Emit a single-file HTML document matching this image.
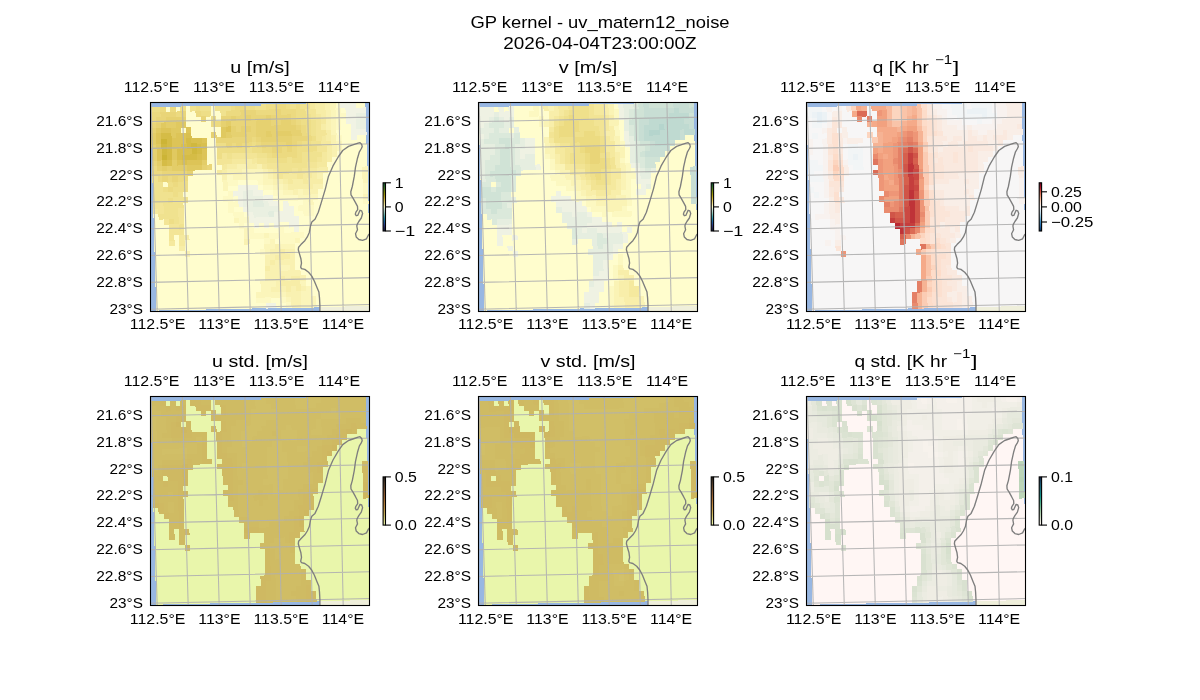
<!DOCTYPE html><html><head><meta charset="utf-8"><title>GP kernel</title>
<style>html,body{margin:0;padding:0;background:#fff}svg{display:block}text{font-family:"Liberation Sans",sans-serif;fill:#000}</style></head><body>
<svg width="1200" height="700" viewBox="0 0 1200 700">
<rect width="1200" height="700" fill="#fff"/>
<g transform="translate(150.7,102.6)">
<clipPath id="cu"><rect x="-0.20" y="-0.10" width="219.0" height="209.0"/></clipPath>
<g clip-path="url(#cu)">
<rect x="-2" y="-2" width="222.5" height="212.4" fill="#98b7e2"/>
<polygon points="169.2,208.6 169.2,203.0 168.8,195.3 168.2,189.5 166.3,185.0 163.7,178.6 161.1,173.5 157.9,169.6 154.1,166.8 150.8,166.0 150.0,164.5 150.8,160.6 150.2,156.1 148.7,151.0 147.6,147.1 147.9,144.6 150.2,142.0 154.1,138.1 156.6,134.3 158.6,129.8 159.8,123.4 161.1,119.5 164.3,116.7 167.6,109.6 170.8,99.3 174.6,86.5 177.8,73.6 182.3,63.3 187.5,54.4 192.0,47.9 197.8,43.8 203.6,41.8 207.4,40.5 209.3,40.0 211.0,41.8 211.5,44.1 210.4,46.4 208.7,49.2 206.8,55.6 204.8,64.6 203.6,73.6 201.6,83.9 200.1,89.1 200.3,92.3 202.3,95.5 204.8,100.0 206.8,103.8 207.0,107.0 205.2,109.6 204.6,111.5 205.5,113.1 207.0,112.8 208.1,110.3 209.3,107.7 211.0,108.3 211.9,110.9 210.6,115.4 208.1,118.9 206.5,121.8 206.1,123.4 206.8,127.2 204.8,131.1 205.5,134.3 208.1,136.9 211.9,137.8 215.8,136.2 217.7,132.4 219.5,130.5 222,130 222,212 169,212" fill="#efefdb"/>
<g transform="matrix(1 -0.0215 0.029 1 -0.4 4.1)" shape-rendering="crispEdges">
<rect x="0" y="0" width="215.00" height="203.87" fill="#fffdcd"/>
<path fill="#eede87" d="M0 0.00h10.35v5.71h-10.35zM30 0.00h5.35v5.71h-5.35zM45 0.00h5.35v5.71h-5.35zM80 0.00h5.35v5.71h-5.35zM95 0.00h10.35v5.71h-10.35zM115 0.00h10.35v5.71h-10.35zM135 0.00h5.35v5.71h-5.35zM145 0.00h5.35v5.71h-5.35zM50 5.37h10.35v5.71h-10.35zM145 5.37h10.35v5.71h-10.35zM60 10.73h5.35v5.71h-5.35zM145 10.73h10.35v5.71h-10.35zM150 16.09h10.35v5.71h-10.35zM155 21.46h5.35v5.71h-5.35zM155 26.83h5.35v5.71h-5.35zM160 32.19h5.35v5.71h-5.35zM65 37.55h10.35v5.71h-10.35zM100 37.55h5.35v5.71h-5.35zM150 37.55h10.35v5.71h-10.35zM65 42.92h30.35v5.71h-30.35zM100 42.92h10.35v5.71h-10.35zM145 42.92h20.35v5.71h-20.35zM65 48.29h5.35v5.71h-5.35zM115 48.29h5.35v5.71h-5.35zM145 48.29h5.35v5.71h-5.35zM125 53.65h10.35v5.71h-10.35zM140 53.65h10.35v5.71h-10.35zM15 75.11h5.35v5.71h-5.35zM25 75.11h10.35v5.71h-10.35zM10 80.48h5.35v5.71h-5.35zM20 80.48h15.35v5.71h-15.35zM20 85.84h5.35v5.71h-5.35zM15 91.20h5.35v5.71h-5.35zM15 112.67h5.35v5.71h-5.35z"/>
<path fill="#ecda80" d="M10 0.00h5.35v5.71h-5.35zM20 0.00h5.35v5.71h-5.35zM85 0.00h10.35v5.71h-10.35zM125 0.00h10.35v5.71h-10.35zM0 5.37h10.35v5.71h-10.35zM25 5.37h5.35v5.71h-5.35zM45 5.37h5.35v5.71h-5.35zM75 5.37h15.35v5.71h-15.35zM105 5.37h20.35v5.71h-20.35zM130 5.37h15.35v5.71h-15.35zM0 10.73h5.35v5.71h-5.35zM140 10.73h5.35v5.71h-5.35zM60 16.09h10.35v5.71h-10.35zM145 16.09h5.35v5.71h-5.35zM150 21.46h5.35v5.71h-5.35zM150 26.83h5.35v5.71h-5.35zM100 32.19h5.35v5.71h-5.35zM155 32.19h5.35v5.71h-5.35zM80 37.55h5.35v5.71h-5.35zM90 37.55h10.35v5.71h-10.35zM105 37.55h5.35v5.71h-5.35zM145 37.55h5.35v5.71h-5.35zM110 42.92h10.35v5.71h-10.35zM130 42.92h5.35v5.71h-5.35zM140 42.92h5.35v5.71h-5.35zM120 48.29h25.35v5.71h-25.35zM0 59.02h5.35v5.71h-5.35zM0 64.38h10.35v5.71h-10.35zM5 69.75h5.35v5.71h-5.35zM15 69.75h5.35v5.71h-5.35zM25 69.75h10.35v5.71h-10.35zM20 75.11h5.35v5.71h-5.35zM15 80.48h5.35v5.71h-5.35z"/>
<path fill="#f0e28f" d="M40 0.00h5.35v5.71h-5.35zM50 0.00h10.35v5.71h-10.35zM65 0.00h15.35v5.71h-15.35zM105 0.00h10.35v5.71h-10.35zM140 0.00h5.35v5.71h-5.35zM150 0.00h10.35v5.71h-10.35zM70 5.37h5.35v5.71h-5.35zM155 10.73h5.35v5.71h-5.35zM160 16.09h5.35v5.71h-5.35zM160 21.46h5.35v5.71h-5.35zM160 26.83h5.35v5.71h-5.35zM160 37.55h10.35v5.71h-10.35zM95 42.92h5.35v5.71h-5.35zM75 48.29h5.35v5.71h-5.35zM105 48.29h10.35v5.71h-10.35zM150 48.29h20.35v5.71h-20.35zM115 53.65h10.35v5.71h-10.35zM135 53.65h5.35v5.71h-5.35zM150 53.65h15.35v5.71h-15.35zM125 59.02h30.35v5.71h-30.35zM125 64.38h15.35v5.71h-15.35zM145 64.38h5.35v5.71h-5.35zM0 69.75h5.35v5.71h-5.35zM0 75.11h10.35v5.71h-10.35zM0 80.48h10.35v5.71h-10.35zM0 85.84h20.35v5.71h-20.35zM25 85.84h5.35v5.71h-5.35zM0 91.20h15.35v5.71h-15.35zM20 91.20h15.35v5.71h-15.35zM10 96.57h20.35v5.71h-20.35zM10 101.94h15.35v5.71h-15.35zM5 107.30h20.35v5.71h-20.35zM20 112.67h5.35v5.71h-5.35zM25 118.03h5.35v5.71h-5.35z"/>
<path fill="#f5e99e" d="M160 0.00h5.35v5.71h-5.35zM165 10.73h5.35v5.71h-5.35zM170 16.09h5.35v5.71h-5.35zM170 32.19h5.35v5.71h-5.35zM170 37.55h10.35v5.71h-10.35zM170 48.29h5.35v5.71h-5.35zM80 53.65h15.35v5.71h-15.35zM100 53.65h5.35v5.71h-5.35zM170 53.65h5.35v5.71h-5.35zM70 59.02h5.35v5.71h-5.35zM110 59.02h5.35v5.71h-5.35zM165 59.02h10.35v5.71h-10.35zM65 64.38h5.35v5.71h-5.35zM120 64.38h5.35v5.71h-5.35zM155 64.38h10.35v5.71h-10.35zM130 69.75h15.35v5.71h-15.35zM150 69.75h10.35v5.71h-10.35zM135 75.11h5.35v5.71h-5.35zM150 75.11h5.35v5.71h-5.35zM0 101.94h5.35v5.71h-5.35zM25 128.76h5.35v5.71h-5.35zM15 134.12h5.35v5.71h-5.35zM25 134.12h5.35v5.71h-5.35z"/>
<path fill="#f7eda7" d="M165 0.00h10.35v5.71h-10.35zM165 5.37h10.35v5.71h-10.35zM170 10.73h5.35v5.71h-5.35zM170 21.46h5.35v5.71h-5.35zM175 26.83h5.35v5.71h-5.35zM175 32.19h5.35v5.71h-5.35zM175 42.92h5.35v5.71h-5.35zM175 48.29h5.35v5.71h-5.35zM95 53.65h5.35v5.71h-5.35zM175 53.65h5.35v5.71h-5.35zM75 59.02h10.35v5.71h-10.35zM95 59.02h10.35v5.71h-10.35zM70 64.38h5.35v5.71h-5.35zM115 64.38h5.35v5.71h-5.35zM165 64.38h10.35v5.71h-10.35zM120 69.75h5.35v5.71h-5.35zM160 69.75h5.35v5.71h-5.35zM130 75.11h5.35v5.71h-5.35zM140 75.11h10.35v5.71h-10.35zM155 75.11h15.35v5.71h-15.35zM135 80.48h25.35v5.71h-25.35zM30 128.76h5.35v5.71h-5.35zM25 139.49h5.35v5.71h-5.35zM125 144.86h5.35v5.71h-5.35zM120 150.22h15.35v5.71h-15.35zM115 155.59h5.35v5.71h-5.35zM110 160.95h5.35v5.71h-5.35zM125 171.68h5.35v5.71h-5.35zM135 171.68h10.35v5.71h-10.35zM125 177.05h20.35v5.71h-20.35zM130 182.41h5.35v5.71h-5.35zM140 182.41h5.35v5.71h-5.35z"/>
<path fill="#f9f1b1" d="M175 0.00h5.35v5.71h-5.35zM175 5.37h5.35v5.71h-5.35zM175 10.73h5.35v5.71h-5.35zM175 16.09h5.35v5.71h-5.35zM175 21.46h5.35v5.71h-5.35zM180 32.19h5.35v5.71h-5.35zM180 37.55h5.35v5.71h-5.35zM180 42.92h5.35v5.71h-5.35zM180 48.29h5.35v5.71h-5.35zM85 59.02h10.35v5.71h-10.35zM105 59.02h5.35v5.71h-5.35zM75 64.38h15.35v5.71h-15.35zM110 64.38h5.35v5.71h-5.35zM70 69.75h5.35v5.71h-5.35zM115 69.75h5.35v5.71h-5.35zM165 69.75h5.35v5.71h-5.35zM120 75.11h10.35v5.71h-10.35zM130 80.48h5.35v5.71h-5.35zM160 80.48h10.35v5.71h-10.35zM140 85.84h5.35v5.71h-5.35zM150 85.84h15.35v5.71h-15.35zM90 134.12h5.35v5.71h-5.35zM120 139.49h5.35v5.71h-5.35zM30 144.86h5.35v5.71h-5.35zM115 144.86h10.35v5.71h-10.35zM130 144.86h10.35v5.71h-10.35zM110 150.22h10.35v5.71h-10.35zM135 150.22h5.35v5.71h-5.35zM110 155.59h5.35v5.71h-5.35zM120 155.59h20.35v5.71h-20.35zM115 160.95h10.35v5.71h-10.35zM135 160.95h5.35v5.71h-5.35zM110 166.31h35.35v5.71h-35.35zM110 171.68h15.35v5.71h-15.35zM130 171.68h5.35v5.71h-5.35zM145 171.68h5.35v5.71h-5.35zM120 177.05h5.35v5.71h-5.35zM115 182.41h15.35v5.71h-15.35zM135 182.41h5.35v5.71h-5.35zM145 182.41h5.35v5.71h-5.35zM130 187.78h15.35v5.71h-15.35zM135 193.14h10.35v5.71h-10.35zM135 198.50h10.35v5.71h-10.35z"/>
<path fill="#fbf5ba" d="M180 0.00h5.35v5.71h-5.35zM180 5.37h5.35v5.71h-5.35zM180 10.73h5.35v5.71h-5.35zM180 16.09h5.35v5.71h-5.35zM180 21.46h5.35v5.71h-5.35zM180 26.83h5.35v5.71h-5.35zM185 37.55h5.35v5.71h-5.35zM185 42.92h5.35v5.71h-5.35zM90 64.38h20.35v5.71h-20.35zM210 64.38h5.35v5.71h-5.35zM80 69.75h15.35v5.71h-15.35zM110 69.75h5.35v5.71h-5.35zM210 69.75h5.35v5.71h-5.35zM70 75.11h5.35v5.71h-5.35zM110 75.11h10.35v5.71h-10.35zM210 75.11h5.35v5.71h-5.35zM70 80.48h5.35v5.71h-5.35zM120 80.48h10.35v5.71h-10.35zM130 85.84h10.35v5.71h-10.35zM145 85.84h5.35v5.71h-5.35zM145 91.20h20.35v5.71h-20.35zM210 91.20h5.35v5.71h-5.35zM155 96.57h5.35v5.71h-5.35zM80 112.67h5.35v5.71h-5.35zM90 123.40h5.35v5.71h-5.35zM90 128.76h5.35v5.71h-5.35zM110 128.76h5.35v5.71h-5.35zM115 134.12h5.35v5.71h-5.35zM140 134.12h5.35v5.71h-5.35zM110 139.49h10.35v5.71h-10.35zM125 139.49h15.35v5.71h-15.35zM110 144.86h5.35v5.71h-5.35zM125 160.95h10.35v5.71h-10.35zM105 177.05h15.35v5.71h-15.35zM145 177.05h5.35v5.71h-5.35zM105 182.41h10.35v5.71h-10.35zM150 182.41h5.35v5.71h-5.35zM100 187.78h30.35v5.71h-30.35zM145 187.78h10.35v5.71h-10.35zM130 193.14h5.35v5.71h-5.35zM145 193.14h15.35v5.71h-15.35zM145 198.50h15.35v5.71h-15.35z"/>
<path fill="#f1f3e4" d="M190 0.00h15.35v5.71h-15.35zM195 5.37h20.35v5.71h-20.35zM195 10.73h10.35v5.71h-10.35zM195 16.09h10.35v5.71h-10.35zM200 21.46h5.35v5.71h-5.35zM200 26.83h15.35v5.71h-15.35zM200 32.19h5.35v5.71h-5.35zM85 80.48h20.35v5.71h-20.35zM80 85.84h10.35v5.71h-10.35zM100 85.84h10.35v5.71h-10.35zM85 91.20h5.35v5.71h-5.35zM110 91.20h10.35v5.71h-10.35zM85 96.57h5.35v5.71h-5.35zM115 96.57h10.35v5.71h-10.35zM130 96.57h5.35v5.71h-5.35zM90 101.94h5.35v5.71h-5.35zM130 101.94h10.35v5.71h-10.35zM95 107.30h5.35v5.71h-5.35zM120 107.30h20.35v5.71h-20.35zM95 112.67h50.35v5.71h-50.35zM100 118.03h5.35v5.71h-5.35zM110 118.03h5.35v5.71h-5.35zM120 118.03h5.35v5.71h-5.35zM135 118.03h10.35v5.71h-10.35zM140 123.40h5.35v5.71h-5.35zM110 198.50h10.35v5.71h-10.35z"/>
<path fill="#e9d578" d="M10 5.37h15.35v5.71h-15.35zM30 5.37h5.35v5.71h-5.35zM90 5.37h15.35v5.71h-15.35zM125 5.37h5.35v5.71h-5.35zM5 10.73h10.35v5.71h-10.35zM50 10.73h5.35v5.71h-5.35zM70 10.73h10.35v5.71h-10.35zM85 10.73h10.35v5.71h-10.35zM100 10.73h15.35v5.71h-15.35zM120 10.73h20.35v5.71h-20.35zM0 16.09h5.35v5.71h-5.35zM80 16.09h25.35v5.71h-25.35zM120 16.09h10.35v5.71h-10.35zM140 16.09h5.35v5.71h-5.35zM85 21.46h5.35v5.71h-5.35zM100 21.46h5.35v5.71h-5.35zM145 21.46h5.35v5.71h-5.35zM95 26.83h10.35v5.71h-10.35zM65 32.19h35.35v5.71h-35.35zM105 32.19h5.35v5.71h-5.35zM140 32.19h15.35v5.71h-15.35zM75 37.55h5.35v5.71h-5.35zM85 37.55h5.35v5.71h-5.35zM110 37.55h25.35v5.71h-25.35zM140 37.55h5.35v5.71h-5.35zM120 42.92h10.35v5.71h-10.35zM135 42.92h5.35v5.71h-5.35zM0 53.65h5.35v5.71h-5.35zM55 59.02h5.35v5.71h-5.35zM10 64.38h25.35v5.71h-25.35zM10 69.75h5.35v5.71h-5.35zM20 69.75h5.35v5.71h-5.35z"/>
<path fill="#f3e596" d="M155 5.37h10.35v5.71h-10.35zM160 10.73h5.35v5.71h-5.35zM165 16.09h5.35v5.71h-5.35zM165 21.46h5.35v5.71h-5.35zM165 26.83h10.35v5.71h-10.35zM165 32.19h5.35v5.71h-5.35zM165 42.92h10.35v5.71h-10.35zM70 48.29h5.35v5.71h-5.35zM80 48.29h25.35v5.71h-25.35zM65 53.65h15.35v5.71h-15.35zM105 53.65h10.35v5.71h-10.35zM165 53.65h5.35v5.71h-5.35zM115 59.02h10.35v5.71h-10.35zM155 59.02h10.35v5.71h-10.35zM140 64.38h5.35v5.71h-5.35zM150 64.38h5.35v5.71h-5.35zM125 69.75h5.35v5.71h-5.35zM145 69.75h5.35v5.71h-5.35zM0 96.57h10.35v5.71h-10.35zM5 101.94h5.35v5.71h-5.35zM25 101.94h5.35v5.71h-5.35zM25 107.30h5.35v5.71h-5.35zM10 112.67h5.35v5.71h-5.35zM25 112.67h5.35v5.71h-5.35zM15 118.03h10.35v5.71h-10.35zM15 123.40h15.35v5.71h-15.35zM15 128.76h5.35v5.71h-5.35z"/>
<path fill="#fdf9c4" d="M185 5.37h5.35v5.71h-5.35zM185 10.73h10.35v5.71h-10.35zM185 16.09h5.35v5.71h-5.35zM185 21.46h5.35v5.71h-5.35zM185 32.19h5.35v5.71h-5.35zM75 69.75h5.35v5.71h-5.35zM95 69.75h15.35v5.71h-15.35zM75 75.11h10.35v5.71h-10.35zM105 75.11h5.35v5.71h-5.35zM110 80.48h10.35v5.71h-10.35zM210 80.48h5.35v5.71h-5.35zM75 85.84h5.35v5.71h-5.35zM120 85.84h10.35v5.71h-10.35zM210 85.84h5.35v5.71h-5.35zM70 91.20h10.35v5.71h-10.35zM125 91.20h20.35v5.71h-20.35zM75 96.57h10.35v5.71h-10.35zM150 96.57h5.35v5.71h-5.35zM210 96.57h5.35v5.71h-5.35zM75 101.94h5.35v5.71h-5.35zM145 101.94h15.35v5.71h-15.35zM80 107.30h10.35v5.71h-10.35zM150 107.30h10.35v5.71h-10.35zM85 112.67h10.35v5.71h-10.35zM85 118.03h5.35v5.71h-5.35zM95 123.40h5.35v5.71h-5.35zM125 123.40h5.35v5.71h-5.35zM95 128.76h15.35v5.71h-15.35zM115 128.76h35.35v5.71h-35.35zM110 134.12h5.35v5.71h-5.35zM125 134.12h15.35v5.71h-15.35zM105 144.86h5.35v5.71h-5.35zM100 193.14h15.35v5.71h-15.35zM125 193.14h5.35v5.71h-5.35zM130 198.50h5.35v5.71h-5.35z"/>
<path fill="#e6d170" d="M15 10.73h20.35v5.71h-20.35zM80 10.73h5.35v5.71h-5.35zM95 10.73h5.35v5.71h-5.35zM115 10.73h5.35v5.71h-5.35zM5 16.09h5.35v5.71h-5.35zM70 16.09h5.35v5.71h-5.35zM105 16.09h15.35v5.71h-15.35zM130 16.09h10.35v5.71h-10.35zM0 21.46h5.35v5.71h-5.35zM80 21.46h5.35v5.71h-5.35zM90 21.46h10.35v5.71h-10.35zM105 21.46h40.35v5.71h-40.35zM60 26.83h5.35v5.71h-5.35zM80 26.83h15.35v5.71h-15.35zM105 26.83h10.35v5.71h-10.35zM120 26.83h5.35v5.71h-5.35zM140 26.83h10.35v5.71h-10.35zM110 32.19h30.35v5.71h-30.35zM0 37.55h5.35v5.71h-5.35zM135 37.55h5.35v5.71h-5.35zM0 42.92h5.35v5.71h-5.35zM0 48.29h5.35v5.71h-5.35zM5 59.02h5.35v5.71h-5.35zM15 59.02h5.35v5.71h-5.35zM50 59.02h5.35v5.71h-5.35zM35 64.38h5.35v5.71h-5.35z"/>
<path fill="#eaf0e1" d="M205 10.73h10.35v5.71h-10.35zM205 16.09h10.35v5.71h-10.35zM205 21.46h10.35v5.71h-10.35zM90 85.84h10.35v5.71h-10.35zM90 91.20h20.35v5.71h-20.35zM90 96.57h10.35v5.71h-10.35zM110 96.57h5.35v5.71h-5.35zM95 101.94h30.35v5.71h-30.35zM100 107.30h15.35v5.71h-15.35z"/>
<path fill="#e0c960" d="M10 16.09h5.35v5.71h-5.35zM25 16.09h10.35v5.71h-10.35zM5 21.46h5.35v5.71h-5.35zM20 21.46h10.35v5.71h-10.35zM70 21.46h5.35v5.71h-5.35zM20 26.83h5.35v5.71h-5.35zM70 26.83h5.35v5.71h-5.35zM5 37.55h5.35v5.71h-5.35zM20 42.92h5.35v5.71h-5.35zM20 48.29h5.35v5.71h-5.35zM35 59.02h15.35v5.71h-15.35z"/>
<path fill="#e3cd68" d="M15 16.09h10.35v5.71h-10.35zM75 16.09h5.35v5.71h-5.35zM0 26.83h5.35v5.71h-5.35zM75 26.83h5.35v5.71h-5.35zM115 26.83h5.35v5.71h-5.35zM125 26.83h15.35v5.71h-15.35zM0 32.19h5.35v5.71h-5.35zM5 53.65h5.35v5.71h-5.35zM20 53.65h5.35v5.71h-5.35zM50 53.65h5.35v5.71h-5.35zM10 59.02h5.35v5.71h-5.35zM20 59.02h15.35v5.71h-15.35z"/>
<path fill="#ddc457" d="M10 21.46h10.35v5.71h-10.35zM35 21.46h5.35v5.71h-5.35zM75 21.46h5.35v5.71h-5.35zM5 26.83h5.35v5.71h-5.35zM25 26.83h10.35v5.71h-10.35zM5 32.19h5.35v5.71h-5.35zM20 32.19h15.35v5.71h-15.35zM50 32.19h5.35v5.71h-5.35zM20 37.55h10.35v5.71h-10.35zM5 42.92h5.35v5.71h-5.35zM50 42.92h5.35v5.71h-5.35zM5 48.29h5.35v5.71h-5.35zM50 48.29h5.35v5.71h-5.35zM25 53.65h5.35v5.71h-5.35zM35 53.65h15.35v5.71h-15.35z"/>
<path fill="#d5bc46" d="M10 26.83h10.35v5.71h-10.35zM15 32.19h5.35v5.71h-5.35zM35 32.19h5.35v5.71h-5.35zM15 37.55h5.35v5.71h-5.35zM35 37.55h5.35v5.71h-5.35zM45 37.55h5.35v5.71h-5.35zM15 42.92h5.35v5.71h-5.35zM45 42.92h5.35v5.71h-5.35zM15 48.29h5.35v5.71h-5.35zM30 48.29h15.35v5.71h-15.35zM10 53.65h5.35v5.71h-5.35z"/>
<path fill="#d9c04e" d="M35 26.83h5.35v5.71h-5.35zM40 32.19h10.35v5.71h-10.35zM30 37.55h5.35v5.71h-5.35zM50 37.55h5.35v5.71h-5.35zM25 42.92h15.35v5.71h-15.35zM25 48.29h5.35v5.71h-5.35zM45 48.29h5.35v5.71h-5.35zM15 53.65h5.35v5.71h-5.35zM30 53.65h5.35v5.71h-5.35z"/>
<path fill="#ccb436" d="M10 32.19h5.35v5.71h-5.35zM10 48.29h5.35v5.71h-5.35z"/>
<path fill="#d0b83e" d="M10 37.55h5.35v5.71h-5.35zM40 37.55h5.35v5.71h-5.35zM10 42.92h5.35v5.71h-5.35zM40 42.92h5.35v5.71h-5.35z"/>
<path fill="#e2ecde" d="M100 96.57h10.35v5.71h-10.35zM115 107.30h5.35v5.71h-5.35z"/>
</g>
<path d="M-1 -1h31v5.4h-31zM30 -1h80v4.4h-80zM110 -1h45v2.6h-45z" fill="#98b7e2" shape-rendering="crispEdges"/>
<path d="M0.3 -1L6.5 209.4M31.6 -1L37.5 209.4M62.9 -1L68.5 209.4M94.2 -1L99.5 209.4M125.5 -1L130.5 209.4M156.8 -1L161.5 209.4M188.1 -1L192.5 209.4M219.4 -1L223.5 209.4M-1 19.0L219.5 14.5M-1 45.8L219.5 41.2M-1 72.6L219.5 68.0M-1 99.4L219.5 94.8M-1 126.2L219.5 121.5M-1 153.0L219.5 148.2M-1 179.8L219.5 175.0M-1 206.6L219.5 201.8" stroke="#b0b0b0" stroke-width="1.05" fill="none" opacity="0.93"/>
<path d="M169.2 208.6L169.2 203.0L168.8 195.3L168.2 189.5L166.3 185.0L163.7 178.6L161.1 173.5L157.9 169.6L154.1 166.8L150.8 166.0L150.0 164.5L150.8 160.6L150.2 156.1L148.7 151.0L147.6 147.1L147.9 144.6L150.2 142.0L154.1 138.1L156.6 134.3L158.6 129.8L159.8 123.4L161.1 119.5L164.3 116.7L167.6 109.6L170.8 99.3L174.6 86.5L177.8 73.6L182.3 63.3L187.5 54.4L192.0 47.9L197.8 43.8L203.6 41.8L207.4 40.5L209.3 40.0L211.0 41.8L211.5 44.1L210.4 46.4L208.7 49.2L206.8 55.6L204.8 64.6L203.6 73.6L201.6 83.9L200.1 89.1L200.3 92.3L202.3 95.5L204.8 100.0L206.8 103.8L207.0 107.0L205.2 109.6L204.6 111.5L205.5 113.1L207.0 112.8L208.1 110.3L209.3 107.7L211.0 108.3L211.9 110.9L210.6 115.4L208.1 118.9L206.5 121.8L206.1 123.4L206.8 127.2L204.8 131.1L205.5 134.3L208.1 136.9L211.9 137.8L215.8 136.2L217.7 132.4L219.5 130.5" stroke="#7e7e7e" stroke-width="1.35" fill="none" stroke-linejoin="round"/>
</g>
<rect x="-0.20" y="-0.10" width="219.0" height="209.0" fill="none" stroke="#000" stroke-width="1.1"/>
</g>
<linearGradient id="gu" x1="0" y1="0" x2="0" y2="1"><stop offset="0.00" stop-color="#174027"/><stop offset="0.05" stop-color="#1c6430"/><stop offset="0.10" stop-color="#3e7628"/><stop offset="0.15" stop-color="#648419"/><stop offset="0.20" stop-color="#88900c"/><stop offset="0.25" stop-color="#a89b0e"/><stop offset="0.30" stop-color="#c4ac28"/><stop offset="0.35" stop-color="#d9c04e"/><stop offset="0.40" stop-color="#e9d578"/><stop offset="0.45" stop-color="#f5e99e"/><stop offset="0.50" stop-color="#fffdcd"/><stop offset="0.55" stop-color="#d0e3d6"/><stop offset="0.60" stop-color="#aad0c8"/><stop offset="0.65" stop-color="#7abeb2"/><stop offset="0.70" stop-color="#49a3ab"/><stop offset="0.75" stop-color="#2787a5"/><stop offset="0.80" stop-color="#1e69a0"/><stop offset="0.85" stop-color="#284b96"/><stop offset="0.90" stop-color="#2c3278"/><stop offset="0.95" stop-color="#202550"/><stop offset="1.00" stop-color="#112040"/></linearGradient>
<rect x="383.1" y="182.8" width="2.4" height="48.2" fill="url(#gu)" stroke="#000" stroke-width="1.1"/>
<path d="M385.5 182.8h5.4" stroke="#000" stroke-width="1.1"/>
<path d="M385.5 206.9h5.4" stroke="#000" stroke-width="1.1"/>
<path d="M385.5 231.0h5.4" stroke="#000" stroke-width="1.1"/>
<g transform="translate(478.8,102.6)">
<clipPath id="cv"><rect x="-0.30" y="-0.10" width="219.0" height="209.0"/></clipPath>
<g clip-path="url(#cv)">
<rect x="-2" y="-2" width="222.5" height="212.4" fill="#98b7e2"/>
<polygon points="169.2,208.6 169.2,203.0 168.8,195.3 168.2,189.5 166.3,185.0 163.7,178.6 161.1,173.5 157.9,169.6 154.1,166.8 150.8,166.0 150.0,164.5 150.8,160.6 150.2,156.1 148.7,151.0 147.6,147.1 147.9,144.6 150.2,142.0 154.1,138.1 156.6,134.3 158.6,129.8 159.8,123.4 161.1,119.5 164.3,116.7 167.6,109.6 170.8,99.3 174.6,86.5 177.8,73.6 182.3,63.3 187.5,54.4 192.0,47.9 197.8,43.8 203.6,41.8 207.4,40.5 209.3,40.0 211.0,41.8 211.5,44.1 210.4,46.4 208.7,49.2 206.8,55.6 204.8,64.6 203.6,73.6 201.6,83.9 200.1,89.1 200.3,92.3 202.3,95.5 204.8,100.0 206.8,103.8 207.0,107.0 205.2,109.6 204.6,111.5 205.5,113.1 207.0,112.8 208.1,110.3 209.3,107.7 211.0,108.3 211.9,110.9 210.6,115.4 208.1,118.9 206.5,121.8 206.1,123.4 206.8,127.2 204.8,131.1 205.5,134.3 208.1,136.9 211.9,137.8 215.8,136.2 217.7,132.4 219.5,130.5 222,130 222,212 169,212" fill="#efefdb"/>
<g transform="matrix(1 -0.0215 0.029 1 -0.4 4.1)" shape-rendering="crispEdges">
<rect x="0" y="0" width="215.00" height="203.87" fill="#fffdcd"/>
<path fill="#eff2e3" d="M0 0.00h15.35v5.71h-15.35zM20 0.00h5.35v5.71h-5.35zM30 0.00h5.35v5.71h-5.35zM140 0.00h5.35v5.71h-5.35zM0 5.37h15.35v5.71h-15.35zM20 5.37h15.35v5.71h-15.35zM140 5.37h5.35v5.71h-5.35zM0 10.73h10.35v5.71h-10.35zM25 10.73h5.35v5.71h-5.35zM140 10.73h5.35v5.71h-5.35zM0 16.09h5.35v5.71h-5.35zM0 26.83h5.35v5.71h-5.35zM145 26.83h5.35v5.71h-5.35zM45 32.19h10.35v5.71h-10.35zM145 32.19h5.35v5.71h-5.35zM45 37.55h10.35v5.71h-10.35zM145 37.55h5.35v5.71h-5.35zM40 42.92h15.35v5.71h-15.35zM40 48.29h5.35v5.71h-5.35zM55 59.02h5.35v5.71h-5.35zM150 59.02h5.35v5.71h-5.35zM155 64.38h5.35v5.71h-5.35zM155 69.75h5.35v5.71h-5.35zM155 75.11h15.35v5.71h-15.35zM160 80.48h5.35v5.71h-5.35zM75 85.84h5.35v5.71h-5.35zM155 85.84h10.35v5.71h-10.35zM70 91.20h20.35v5.71h-20.35zM75 96.57h25.35v5.71h-25.35zM80 101.94h25.35v5.71h-25.35zM90 107.30h5.35v5.71h-5.35zM105 107.30h5.35v5.71h-5.35zM110 112.67h10.35v5.71h-10.35zM15 118.03h15.35v5.71h-15.35zM105 118.03h25.35v5.71h-25.35zM135 118.03h5.35v5.71h-5.35zM15 123.40h15.35v5.71h-15.35zM100 123.40h5.35v5.71h-5.35zM115 123.40h25.35v5.71h-25.35zM145 123.40h5.35v5.71h-5.35zM15 128.76h5.35v5.71h-5.35zM30 128.76h5.35v5.71h-5.35zM140 128.76h5.35v5.71h-5.35zM15 134.12h5.35v5.71h-5.35zM140 134.12h5.35v5.71h-5.35zM25 139.49h5.35v5.71h-5.35zM130 139.49h10.35v5.71h-10.35zM30 144.86h5.35v5.71h-5.35zM130 144.86h5.35v5.71h-5.35zM125 150.22h5.35v5.71h-5.35zM120 155.59h5.35v5.71h-5.35zM120 160.95h5.35v5.71h-5.35zM115 166.31h10.35v5.71h-10.35zM110 171.68h15.35v5.71h-15.35zM110 177.05h10.35v5.71h-10.35zM105 182.41h15.35v5.71h-15.35zM100 187.78h15.35v5.71h-15.35zM100 193.14h15.35v5.71h-15.35zM105 198.50h5.35v5.71h-5.35z"/>
<path fill="#fcf8c1" d="M55 0.00h5.35v5.71h-5.35zM50 5.37h10.35v5.71h-10.35zM135 5.37h5.35v5.71h-5.35zM60 10.73h5.35v5.71h-5.35zM135 10.73h5.35v5.71h-5.35zM60 16.09h5.35v5.71h-5.35zM135 21.46h5.35v5.71h-5.35zM135 26.83h5.35v5.71h-5.35zM140 37.55h5.35v5.71h-5.35zM65 48.29h5.35v5.71h-5.35zM70 53.65h5.35v5.71h-5.35zM140 53.65h5.35v5.71h-5.35zM70 59.02h5.35v5.71h-5.35zM145 59.02h5.35v5.71h-5.35zM75 64.38h5.35v5.71h-5.35zM145 64.38h5.35v5.71h-5.35zM70 69.75h15.35v5.71h-15.35zM145 69.75h10.35v5.71h-10.35zM75 75.11h15.35v5.71h-15.35zM145 75.11h5.35v5.71h-5.35zM85 80.48h10.35v5.71h-10.35zM145 80.48h5.35v5.71h-5.35zM95 85.84h5.35v5.71h-5.35zM140 85.84h10.35v5.71h-10.35zM95 91.20h10.35v5.71h-10.35zM145 91.20h5.35v5.71h-5.35zM105 96.57h10.35v5.71h-10.35zM145 96.57h5.35v5.71h-5.35zM110 101.94h15.35v5.71h-15.35zM140 101.94h5.35v5.71h-5.35zM120 107.30h5.35v5.71h-5.35zM130 107.30h20.35v5.71h-20.35zM135 150.22h5.35v5.71h-5.35zM135 155.59h5.35v5.71h-5.35zM130 160.95h5.35v5.71h-5.35zM130 166.31h5.35v5.71h-5.35zM130 171.68h5.35v5.71h-5.35zM125 182.41h5.35v5.71h-5.35zM125 187.78h5.35v5.71h-5.35zM125 193.14h5.35v5.71h-5.35zM125 198.50h5.35v5.71h-5.35z"/>
<path fill="#f8eeaa" d="M65 0.00h5.35v5.71h-5.35zM75 0.00h5.35v5.71h-5.35zM125 0.00h5.35v5.71h-5.35zM70 5.37h10.35v5.71h-10.35zM125 5.37h5.35v5.71h-5.35zM70 10.73h5.35v5.71h-5.35zM130 10.73h5.35v5.71h-5.35zM70 16.09h5.35v5.71h-5.35zM130 21.46h5.35v5.71h-5.35zM125 26.83h10.35v5.71h-10.35zM130 32.19h5.35v5.71h-5.35zM70 37.55h5.35v5.71h-5.35zM75 48.29h5.35v5.71h-5.35zM135 48.29h5.35v5.71h-5.35zM75 53.65h5.35v5.71h-5.35zM135 53.65h5.35v5.71h-5.35zM135 59.02h5.35v5.71h-5.35zM95 69.75h5.35v5.71h-5.35zM100 75.11h5.35v5.71h-5.35zM135 75.11h5.35v5.71h-5.35zM100 80.48h10.35v5.71h-10.35zM135 80.48h5.35v5.71h-5.35zM105 85.84h10.35v5.71h-10.35zM130 85.84h10.35v5.71h-10.35zM115 91.20h20.35v5.71h-20.35zM135 166.31h10.35v5.71h-10.35zM140 171.68h10.35v5.71h-10.35zM135 177.05h10.35v5.71h-10.35zM135 182.41h10.35v5.71h-10.35zM135 187.78h10.35v5.71h-10.35zM140 193.14h15.35v5.71h-15.35zM140 198.50h15.35v5.71h-15.35z"/>
<path fill="#faf3b5" d="M70 0.00h5.35v5.71h-5.35zM130 0.00h5.35v5.71h-5.35zM130 5.37h5.35v5.71h-5.35zM65 16.09h5.35v5.71h-5.35zM130 16.09h10.35v5.71h-10.35zM65 32.19h5.35v5.71h-5.35zM135 32.19h5.35v5.71h-5.35zM65 37.55h5.35v5.71h-5.35zM135 37.55h5.35v5.71h-5.35zM65 42.92h10.35v5.71h-10.35zM135 42.92h10.35v5.71h-10.35zM70 48.29h5.35v5.71h-5.35zM140 48.29h5.35v5.71h-5.35zM75 59.02h10.35v5.71h-10.35zM140 59.02h5.35v5.71h-5.35zM80 64.38h10.35v5.71h-10.35zM140 64.38h5.35v5.71h-5.35zM85 69.75h10.35v5.71h-10.35zM140 69.75h5.35v5.71h-5.35zM90 75.11h10.35v5.71h-10.35zM140 75.11h5.35v5.71h-5.35zM95 80.48h5.35v5.71h-5.35zM140 80.48h5.35v5.71h-5.35zM100 85.84h5.35v5.71h-5.35zM105 91.20h10.35v5.71h-10.35zM135 91.20h10.35v5.71h-10.35zM115 96.57h30.35v5.71h-30.35zM125 101.94h15.35v5.71h-15.35zM135 160.95h5.35v5.71h-5.35zM135 171.68h5.35v5.71h-5.35zM130 177.05h5.35v5.71h-5.35zM130 182.41h5.35v5.71h-5.35zM130 187.78h5.35v5.71h-5.35zM130 193.14h10.35v5.71h-10.35zM155 193.14h5.35v5.71h-5.35zM130 198.50h10.35v5.71h-10.35zM155 198.50h5.35v5.71h-5.35z"/>
<path fill="#f5e99e" d="M80 0.00h10.35v5.71h-10.35zM115 0.00h10.35v5.71h-10.35zM80 5.37h5.35v5.71h-5.35zM115 5.37h10.35v5.71h-10.35zM75 10.73h5.35v5.71h-5.35zM125 10.73h5.35v5.71h-5.35zM125 16.09h5.35v5.71h-5.35zM70 21.46h5.35v5.71h-5.35zM125 21.46h5.35v5.71h-5.35zM70 32.19h5.35v5.71h-5.35zM125 32.19h5.35v5.71h-5.35zM75 37.55h5.35v5.71h-5.35zM125 37.55h10.35v5.71h-10.35zM75 42.92h10.35v5.71h-10.35zM125 42.92h10.35v5.71h-10.35zM80 48.29h5.35v5.71h-5.35zM130 48.29h5.35v5.71h-5.35zM80 53.65h5.35v5.71h-5.35zM85 59.02h10.35v5.71h-10.35zM90 64.38h15.35v5.71h-15.35zM130 64.38h10.35v5.71h-10.35zM100 69.75h5.35v5.71h-5.35zM130 69.75h10.35v5.71h-10.35zM105 75.11h5.35v5.71h-5.35zM130 75.11h5.35v5.71h-5.35zM125 80.48h10.35v5.71h-10.35zM115 85.84h15.35v5.71h-15.35zM145 177.05h5.35v5.71h-5.35zM145 182.41h10.35v5.71h-10.35zM145 187.78h10.35v5.71h-10.35z"/>
<path fill="#f2e494" d="M90 0.00h5.35v5.71h-5.35zM110 0.00h5.35v5.71h-5.35zM85 5.37h5.35v5.71h-5.35zM110 5.37h5.35v5.71h-5.35zM80 10.73h5.35v5.71h-5.35zM110 10.73h15.35v5.71h-15.35zM75 16.09h5.35v5.71h-5.35zM115 16.09h10.35v5.71h-10.35zM120 21.46h5.35v5.71h-5.35zM70 26.83h5.35v5.71h-5.35zM120 26.83h5.35v5.71h-5.35zM80 37.55h10.35v5.71h-10.35zM85 42.92h10.35v5.71h-10.35zM85 48.29h5.35v5.71h-5.35zM125 48.29h5.35v5.71h-5.35zM85 53.65h5.35v5.71h-5.35zM130 53.65h5.35v5.71h-5.35zM95 59.02h10.35v5.71h-10.35zM130 59.02h5.35v5.71h-5.35zM125 64.38h5.35v5.71h-5.35zM105 69.75h5.35v5.71h-5.35zM125 69.75h5.35v5.71h-5.35zM110 75.11h5.35v5.71h-5.35zM125 75.11h5.35v5.71h-5.35zM110 80.48h15.35v5.71h-15.35z"/>
<path fill="#efe08b" d="M95 0.00h15.35v5.71h-15.35zM90 5.37h20.35v5.71h-20.35zM85 10.73h5.35v5.71h-5.35zM95 10.73h15.35v5.71h-15.35zM80 16.09h5.35v5.71h-5.35zM100 16.09h15.35v5.71h-15.35zM75 21.46h5.35v5.71h-5.35zM100 21.46h20.35v5.71h-20.35zM75 26.83h5.35v5.71h-5.35zM95 26.83h10.35v5.71h-10.35zM115 26.83h5.35v5.71h-5.35zM75 32.19h20.35v5.71h-20.35zM120 32.19h5.35v5.71h-5.35zM90 37.55h10.35v5.71h-10.35zM120 37.55h5.35v5.71h-5.35zM95 42.92h5.35v5.71h-5.35zM90 48.29h15.35v5.71h-15.35zM120 48.29h5.35v5.71h-5.35zM90 53.65h15.35v5.71h-15.35zM125 53.65h5.35v5.71h-5.35zM105 59.02h5.35v5.71h-5.35zM125 59.02h5.35v5.71h-5.35zM105 64.38h5.35v5.71h-5.35zM120 64.38h5.35v5.71h-5.35zM110 69.75h5.35v5.71h-5.35zM120 69.75h5.35v5.71h-5.35zM115 75.11h10.35v5.71h-10.35z"/>
<path fill="#e6eee0" d="M145 0.00h10.35v5.71h-10.35zM15 5.37h5.35v5.71h-5.35zM145 5.37h5.35v5.71h-5.35zM10 10.73h5.35v5.71h-5.35zM20 10.73h5.35v5.71h-5.35zM30 10.73h5.35v5.71h-5.35zM145 10.73h5.35v5.71h-5.35zM5 16.09h5.35v5.71h-5.35zM25 16.09h10.35v5.71h-10.35zM145 16.09h5.35v5.71h-5.35zM0 21.46h15.35v5.71h-15.35zM20 21.46h10.35v5.71h-10.35zM35 21.46h5.35v5.71h-5.35zM145 21.46h5.35v5.71h-5.35zM5 26.83h5.35v5.71h-5.35zM30 26.83h5.35v5.71h-5.35zM0 32.19h5.35v5.71h-5.35zM40 32.19h5.35v5.71h-5.35zM150 32.19h5.35v5.71h-5.35zM0 37.55h15.35v5.71h-15.35zM35 37.55h10.35v5.71h-10.35zM150 37.55h5.35v5.71h-5.35zM0 42.92h15.35v5.71h-15.35zM35 42.92h5.35v5.71h-5.35zM150 42.92h5.35v5.71h-5.35zM0 48.29h10.35v5.71h-10.35zM35 48.29h5.35v5.71h-5.35zM45 48.29h10.35v5.71h-10.35zM150 48.29h5.35v5.71h-5.35zM0 53.65h5.35v5.71h-5.35zM35 53.65h20.35v5.71h-20.35zM150 53.65h5.35v5.71h-5.35zM0 59.02h5.35v5.71h-5.35zM40 59.02h15.35v5.71h-15.35zM155 59.02h5.35v5.71h-5.35zM0 64.38h5.35v5.71h-5.35zM160 64.38h5.35v5.71h-5.35zM170 64.38h5.35v5.71h-5.35zM0 69.75h5.35v5.71h-5.35zM160 69.75h10.35v5.71h-10.35zM165 80.48h5.35v5.71h-5.35zM30 91.20h5.35v5.71h-5.35zM25 96.57h5.35v5.71h-5.35zM75 101.94h5.35v5.71h-5.35zM80 107.30h10.35v5.71h-10.35zM95 107.30h10.35v5.71h-10.35zM15 112.67h15.35v5.71h-15.35zM80 112.67h30.35v5.71h-30.35zM85 118.03h20.35v5.71h-20.35zM95 123.40h5.35v5.71h-5.35zM105 123.40h10.35v5.71h-10.35zM95 128.76h20.35v5.71h-20.35zM120 128.76h20.35v5.71h-20.35zM90 134.12h5.35v5.71h-5.35zM110 134.12h5.35v5.71h-5.35zM125 134.12h15.35v5.71h-15.35zM110 139.49h5.35v5.71h-5.35zM120 139.49h10.35v5.71h-10.35zM105 144.86h25.35v5.71h-25.35zM110 150.22h15.35v5.71h-15.35zM110 155.59h10.35v5.71h-10.35zM110 160.95h10.35v5.71h-10.35zM110 166.31h5.35v5.71h-5.35zM105 177.05h5.35v5.71h-5.35zM100 198.50h5.35v5.71h-5.35z"/>
<path fill="#dbe9db" d="M155 0.00h5.35v5.71h-5.35zM150 5.37h5.35v5.71h-5.35zM15 10.73h5.35v5.71h-5.35zM150 10.73h5.35v5.71h-5.35zM10 16.09h15.35v5.71h-15.35zM15 21.46h5.35v5.71h-5.35zM150 21.46h5.35v5.71h-5.35zM10 26.83h20.35v5.71h-20.35zM35 26.83h5.35v5.71h-5.35zM150 26.83h5.35v5.71h-5.35zM5 32.19h15.35v5.71h-15.35zM30 32.19h10.35v5.71h-10.35zM15 37.55h10.35v5.71h-10.35zM30 37.55h5.35v5.71h-5.35zM155 37.55h5.35v5.71h-5.35zM15 42.92h5.35v5.71h-5.35zM30 42.92h5.35v5.71h-5.35zM155 42.92h10.35v5.71h-10.35zM10 48.29h10.35v5.71h-10.35zM30 48.29h5.35v5.71h-5.35zM155 48.29h5.35v5.71h-5.35zM5 53.65h15.35v5.71h-15.35zM30 53.65h5.35v5.71h-5.35zM155 53.65h10.35v5.71h-10.35zM5 59.02h10.35v5.71h-10.35zM30 59.02h10.35v5.71h-10.35zM160 59.02h5.35v5.71h-5.35zM5 64.38h5.35v5.71h-5.35zM35 64.38h5.35v5.71h-5.35zM165 64.38h5.35v5.71h-5.35zM5 69.75h10.35v5.71h-10.35zM30 69.75h5.35v5.71h-5.35zM0 75.11h10.35v5.71h-10.35zM15 75.11h5.35v5.71h-5.35zM30 75.11h5.35v5.71h-5.35zM10 80.48h5.35v5.71h-5.35zM30 80.48h5.35v5.71h-5.35zM20 85.84h10.35v5.71h-10.35zM0 91.20h5.35v5.71h-5.35zM20 91.20h10.35v5.71h-10.35zM0 96.57h5.35v5.71h-5.35zM20 96.57h5.35v5.71h-5.35zM0 101.94h10.35v5.71h-10.35zM15 101.94h15.35v5.71h-15.35zM5 107.30h25.35v5.71h-25.35zM10 112.67h5.35v5.71h-5.35zM90 123.40h5.35v5.71h-5.35zM90 128.76h5.35v5.71h-5.35zM115 128.76h5.35v5.71h-5.35zM115 134.12h10.35v5.71h-10.35zM115 139.49h5.35v5.71h-5.35z"/>
<path fill="#d0e3d6" d="M160 0.00h5.35v5.71h-5.35zM170 0.00h25.35v5.71h-25.35zM210 0.00h5.35v5.71h-5.35zM155 5.37h10.35v5.71h-10.35zM155 10.73h10.35v5.71h-10.35zM210 10.73h5.35v5.71h-5.35zM150 16.09h10.35v5.71h-10.35zM155 21.46h5.35v5.71h-5.35zM155 26.83h5.35v5.71h-5.35zM20 32.19h10.35v5.71h-10.35zM155 32.19h5.35v5.71h-5.35zM25 37.55h5.35v5.71h-5.35zM160 37.55h10.35v5.71h-10.35zM20 42.92h10.35v5.71h-10.35zM165 42.92h5.35v5.71h-5.35zM20 48.29h10.35v5.71h-10.35zM160 48.29h5.35v5.71h-5.35zM20 53.65h10.35v5.71h-10.35zM165 53.65h15.35v5.71h-15.35zM15 59.02h15.35v5.71h-15.35zM165 59.02h10.35v5.71h-10.35zM10 64.38h25.35v5.71h-25.35zM15 69.75h15.35v5.71h-15.35zM20 75.11h10.35v5.71h-10.35zM0 80.48h10.35v5.71h-10.35zM15 80.48h15.35v5.71h-15.35zM0 85.84h20.35v5.71h-20.35zM5 91.20h15.35v5.71h-15.35zM5 96.57h15.35v5.71h-15.35zM10 101.94h5.35v5.71h-5.35z"/>
<path fill="#c8ded4" d="M165 0.00h5.35v5.71h-5.35zM195 0.00h15.35v5.71h-15.35zM165 5.37h30.35v5.71h-30.35zM200 5.37h15.35v5.71h-15.35zM165 10.73h25.35v5.71h-25.35zM160 16.09h10.35v5.71h-10.35zM205 16.09h10.35v5.71h-10.35zM160 21.46h5.35v5.71h-5.35zM210 21.46h5.35v5.71h-5.35zM160 26.83h5.35v5.71h-5.35zM200 26.83h5.35v5.71h-5.35zM160 32.19h5.35v5.71h-5.35zM200 32.19h5.35v5.71h-5.35zM170 37.55h5.35v5.71h-5.35zM190 37.55h5.35v5.71h-5.35zM170 42.92h20.35v5.71h-20.35zM165 48.29h20.35v5.71h-20.35zM210 64.38h5.35v5.71h-5.35zM210 69.75h5.35v5.71h-5.35zM210 75.11h5.35v5.71h-5.35zM210 80.48h5.35v5.71h-5.35zM210 85.84h5.35v5.71h-5.35zM210 91.20h5.35v5.71h-5.35zM210 96.57h5.35v5.71h-5.35z"/>
<path fill="#bfdad1" d="M195 5.37h5.35v5.71h-5.35zM190 10.73h20.35v5.71h-20.35zM170 16.09h35.35v5.71h-35.35zM165 21.46h15.35v5.71h-15.35zM185 21.46h25.35v5.71h-25.35zM165 26.83h5.35v5.71h-5.35zM180 26.83h20.35v5.71h-20.35zM205 26.83h10.35v5.71h-10.35zM165 32.19h35.35v5.71h-35.35zM175 37.55h15.35v5.71h-15.35z"/>
<path fill="#ecdb81" d="M90 10.73h5.35v5.71h-5.35zM85 16.09h15.35v5.71h-15.35zM80 21.46h20.35v5.71h-20.35zM80 26.83h15.35v5.71h-15.35zM105 26.83h10.35v5.71h-10.35zM95 32.19h25.35v5.71h-25.35zM100 37.55h20.35v5.71h-20.35zM100 42.92h5.35v5.71h-5.35zM120 42.92h5.35v5.71h-5.35zM105 48.29h5.35v5.71h-5.35zM105 53.65h5.35v5.71h-5.35zM120 53.65h5.35v5.71h-5.35zM110 59.02h15.35v5.71h-15.35zM110 64.38h10.35v5.71h-10.35zM115 69.75h5.35v5.71h-5.35z"/>
<path fill="#b5d5cd" d="M180 21.46h5.35v5.71h-5.35zM170 26.83h10.35v5.71h-10.35z"/>
<path fill="#e9d578" d="M105 42.92h15.35v5.71h-15.35zM110 48.29h10.35v5.71h-10.35zM110 53.65h10.35v5.71h-10.35z"/>
</g>
<path d="M-1 -1h31v5.4h-31zM30 -1h80v4.4h-80zM110 -1h45v2.6h-45z" fill="#98b7e2" shape-rendering="crispEdges"/>
<path d="M0.3 -1L6.5 209.4M31.6 -1L37.5 209.4M62.9 -1L68.5 209.4M94.2 -1L99.5 209.4M125.5 -1L130.5 209.4M156.8 -1L161.5 209.4M188.1 -1L192.5 209.4M219.4 -1L223.5 209.4M-1 19.0L219.5 14.5M-1 45.8L219.5 41.2M-1 72.6L219.5 68.0M-1 99.4L219.5 94.8M-1 126.2L219.5 121.5M-1 153.0L219.5 148.2M-1 179.8L219.5 175.0M-1 206.6L219.5 201.8" stroke="#b0b0b0" stroke-width="1.05" fill="none" opacity="0.93"/>
<path d="M169.2 208.6L169.2 203.0L168.8 195.3L168.2 189.5L166.3 185.0L163.7 178.6L161.1 173.5L157.9 169.6L154.1 166.8L150.8 166.0L150.0 164.5L150.8 160.6L150.2 156.1L148.7 151.0L147.6 147.1L147.9 144.6L150.2 142.0L154.1 138.1L156.6 134.3L158.6 129.8L159.8 123.4L161.1 119.5L164.3 116.7L167.6 109.6L170.8 99.3L174.6 86.5L177.8 73.6L182.3 63.3L187.5 54.4L192.0 47.9L197.8 43.8L203.6 41.8L207.4 40.5L209.3 40.0L211.0 41.8L211.5 44.1L210.4 46.4L208.7 49.2L206.8 55.6L204.8 64.6L203.6 73.6L201.6 83.9L200.1 89.1L200.3 92.3L202.3 95.5L204.8 100.0L206.8 103.8L207.0 107.0L205.2 109.6L204.6 111.5L205.5 113.1L207.0 112.8L208.1 110.3L209.3 107.7L211.0 108.3L211.9 110.9L210.6 115.4L208.1 118.9L206.5 121.8L206.1 123.4L206.8 127.2L204.8 131.1L205.5 134.3L208.1 136.9L211.9 137.8L215.8 136.2L217.7 132.4L219.5 130.5" stroke="#7e7e7e" stroke-width="1.35" fill="none" stroke-linejoin="round"/>
</g>
<rect x="-0.30" y="-0.10" width="219.0" height="209.0" fill="none" stroke="#000" stroke-width="1.1"/>
</g>
<linearGradient id="gv" x1="0" y1="0" x2="0" y2="1"><stop offset="0.00" stop-color="#174027"/><stop offset="0.05" stop-color="#1c6430"/><stop offset="0.10" stop-color="#3e7628"/><stop offset="0.15" stop-color="#648419"/><stop offset="0.20" stop-color="#88900c"/><stop offset="0.25" stop-color="#a89b0e"/><stop offset="0.30" stop-color="#c4ac28"/><stop offset="0.35" stop-color="#d9c04e"/><stop offset="0.40" stop-color="#e9d578"/><stop offset="0.45" stop-color="#f5e99e"/><stop offset="0.50" stop-color="#fffdcd"/><stop offset="0.55" stop-color="#d0e3d6"/><stop offset="0.60" stop-color="#aad0c8"/><stop offset="0.65" stop-color="#7abeb2"/><stop offset="0.70" stop-color="#49a3ab"/><stop offset="0.75" stop-color="#2787a5"/><stop offset="0.80" stop-color="#1e69a0"/><stop offset="0.85" stop-color="#284b96"/><stop offset="0.90" stop-color="#2c3278"/><stop offset="0.95" stop-color="#202550"/><stop offset="1.00" stop-color="#112040"/></linearGradient>
<rect x="711.2" y="182.8" width="2.4" height="48.2" fill="url(#gv)" stroke="#000" stroke-width="1.1"/>
<path d="M713.6 182.8h5.4" stroke="#000" stroke-width="1.1"/>
<path d="M713.6 206.9h5.4" stroke="#000" stroke-width="1.1"/>
<path d="M713.6 231.0h5.4" stroke="#000" stroke-width="1.1"/>
<g transform="translate(806.8,102.6)">
<clipPath id="cq"><rect x="-0.30" y="-0.10" width="219.0" height="209.0"/></clipPath>
<g clip-path="url(#cq)">
<rect x="-2" y="-2" width="222.5" height="212.4" fill="#98b7e2"/>
<polygon points="169.2,208.6 169.2,203.0 168.8,195.3 168.2,189.5 166.3,185.0 163.7,178.6 161.1,173.5 157.9,169.6 154.1,166.8 150.8,166.0 150.0,164.5 150.8,160.6 150.2,156.1 148.7,151.0 147.6,147.1 147.9,144.6 150.2,142.0 154.1,138.1 156.6,134.3 158.6,129.8 159.8,123.4 161.1,119.5 164.3,116.7 167.6,109.6 170.8,99.3 174.6,86.5 177.8,73.6 182.3,63.3 187.5,54.4 192.0,47.9 197.8,43.8 203.6,41.8 207.4,40.5 209.3,40.0 211.0,41.8 211.5,44.1 210.4,46.4 208.7,49.2 206.8,55.6 204.8,64.6 203.6,73.6 201.6,83.9 200.1,89.1 200.3,92.3 202.3,95.5 204.8,100.0 206.8,103.8 207.0,107.0 205.2,109.6 204.6,111.5 205.5,113.1 207.0,112.8 208.1,110.3 209.3,107.7 211.0,108.3 211.9,110.9 210.6,115.4 208.1,118.9 206.5,121.8 206.1,123.4 206.8,127.2 204.8,131.1 205.5,134.3 208.1,136.9 211.9,137.8 215.8,136.2 217.7,132.4 219.5,130.5 222,130 222,212 169,212" fill="#efefdb"/>
<g transform="matrix(1 -0.0215 0.029 1 -0.4 4.1)" shape-rendering="crispEdges">
<rect x="0" y="0" width="215.00" height="203.87" fill="#f7f6f6"/>
<path fill="#f2f5f6" d="M0 0.00h15.35v5.71h-15.35zM145 0.00h15.35v5.71h-15.35zM165 0.00h20.35v5.71h-20.35zM0 5.37h5.35v5.71h-5.35zM145 5.37h15.35v5.71h-15.35zM180 5.37h5.35v5.71h-5.35zM5 10.73h5.35v5.71h-5.35zM150 10.73h25.35v5.71h-25.35zM180 10.73h10.35v5.71h-10.35zM5 16.09h10.35v5.71h-10.35zM170 16.09h5.35v5.71h-5.35zM5 26.83h5.35v5.71h-5.35zM40 37.55h10.35v5.71h-10.35zM40 42.92h15.35v5.71h-15.35zM40 48.29h5.35v5.71h-5.35zM50 48.29h5.35v5.71h-5.35zM0 53.65h10.35v5.71h-10.35zM40 53.65h15.35v5.71h-15.35zM0 59.02h15.35v5.71h-15.35zM45 59.02h10.35v5.71h-10.35zM0 64.38h5.35v5.71h-5.35zM0 69.75h15.35v5.71h-15.35zM0 80.48h5.35v5.71h-5.35zM5 85.84h5.35v5.71h-5.35z"/>
<path fill="#f8f2ef" d="M20 0.00h5.35v5.71h-5.35zM30 0.00h5.35v5.71h-5.35zM125 0.00h10.35v5.71h-10.35zM190 0.00h10.35v5.71h-10.35zM130 5.37h10.35v5.71h-10.35zM190 5.37h10.35v5.71h-10.35zM135 10.73h5.35v5.71h-5.35zM190 10.73h10.35v5.71h-10.35zM20 16.09h5.35v5.71h-5.35zM140 16.09h15.35v5.71h-15.35zM185 16.09h10.35v5.71h-10.35zM15 21.46h5.35v5.71h-5.35zM150 21.46h10.35v5.71h-10.35zM165 21.46h25.35v5.71h-25.35zM170 26.83h10.35v5.71h-10.35zM0 32.19h5.35v5.71h-5.35zM15 32.19h5.35v5.71h-5.35zM35 32.19h5.35v5.71h-5.35zM0 37.55h5.35v5.71h-5.35zM15 37.55h5.35v5.71h-5.35zM0 42.92h5.35v5.71h-5.35zM15 42.92h5.35v5.71h-5.35zM15 48.29h5.35v5.71h-5.35zM15 53.65h5.35v5.71h-5.35zM35 53.65h5.35v5.71h-5.35zM15 59.02h5.35v5.71h-5.35zM15 64.38h5.35v5.71h-5.35zM15 69.75h5.35v5.71h-5.35zM15 75.11h5.35v5.71h-5.35zM210 75.11h5.35v5.71h-5.35zM15 80.48h5.35v5.71h-5.35zM210 80.48h5.35v5.71h-5.35zM15 85.84h5.35v5.71h-5.35zM210 85.84h5.35v5.71h-5.35zM210 91.20h5.35v5.71h-5.35zM15 96.57h5.35v5.71h-5.35zM210 96.57h5.35v5.71h-5.35zM15 101.94h5.35v5.71h-5.35zM5 107.30h15.35v5.71h-15.35zM20 112.67h5.35v5.71h-5.35zM20 118.03h10.35v5.71h-10.35zM25 123.40h5.35v5.71h-5.35zM25 128.76h10.35v5.71h-10.35zM15 134.12h5.35v5.71h-5.35z"/>
<path fill="#fae9df" d="M40 0.00h5.35v5.71h-5.35zM120 0.00h5.35v5.71h-5.35zM120 5.37h5.35v5.71h-5.35zM25 10.73h5.35v5.71h-5.35zM125 10.73h5.35v5.71h-5.35zM30 16.09h5.35v5.71h-5.35zM130 16.09h5.35v5.71h-5.35zM20 21.46h5.35v5.71h-5.35zM130 21.46h5.35v5.71h-5.35zM210 21.46h5.35v5.71h-5.35zM20 26.83h5.35v5.71h-5.35zM30 26.83h5.35v5.71h-5.35zM160 26.83h5.35v5.71h-5.35zM195 26.83h5.35v5.71h-5.35zM20 32.19h5.35v5.71h-5.35zM30 32.19h5.35v5.71h-5.35zM125 32.19h15.35v5.71h-15.35zM145 32.19h10.35v5.71h-10.35zM160 32.19h10.35v5.71h-10.35zM175 32.19h5.35v5.71h-5.35zM185 32.19h15.35v5.71h-15.35zM30 37.55h5.35v5.71h-5.35zM125 37.55h10.35v5.71h-10.35zM140 37.55h10.35v5.71h-10.35zM155 37.55h25.35v5.71h-25.35zM190 37.55h5.35v5.71h-5.35zM30 42.92h5.35v5.71h-5.35zM125 42.92h5.35v5.71h-5.35zM135 42.92h25.35v5.71h-25.35zM165 42.92h20.35v5.71h-20.35zM20 48.29h5.35v5.71h-5.35zM130 48.29h15.35v5.71h-15.35zM150 48.29h20.35v5.71h-20.35zM125 53.65h5.35v5.71h-5.35zM135 53.65h10.35v5.71h-10.35zM150 53.65h20.35v5.71h-20.35zM135 59.02h35.35v5.71h-35.35zM20 64.38h5.35v5.71h-5.35zM135 64.38h35.35v5.71h-35.35zM210 64.38h5.35v5.71h-5.35zM20 69.75h5.35v5.71h-5.35zM135 69.75h15.35v5.71h-15.35zM125 75.11h15.35v5.71h-15.35zM155 75.11h5.35v5.71h-5.35zM20 80.48h5.35v5.71h-5.35zM30 80.48h5.35v5.71h-5.35zM120 80.48h5.35v5.71h-5.35zM20 85.84h5.35v5.71h-5.35zM125 85.84h10.35v5.71h-10.35zM155 85.84h5.35v5.71h-5.35zM30 91.20h5.35v5.71h-5.35zM125 91.20h10.35v5.71h-10.35zM160 91.20h5.35v5.71h-5.35zM25 96.57h5.35v5.71h-5.35zM130 96.57h5.35v5.71h-5.35zM25 101.94h5.35v5.71h-5.35zM135 101.94h15.35v5.71h-15.35zM155 101.94h5.35v5.71h-5.35zM140 107.30h20.35v5.71h-20.35zM135 112.67h20.35v5.71h-20.35zM135 118.03h15.35v5.71h-15.35zM125 123.40h15.35v5.71h-15.35zM145 123.40h5.35v5.71h-5.35zM130 128.76h15.35v5.71h-15.35zM135 134.12h5.35v5.71h-5.35zM135 160.95h5.35v5.71h-5.35zM135 166.31h10.35v5.71h-10.35zM140 171.68h10.35v5.71h-10.35zM135 177.05h10.35v5.71h-10.35zM140 182.41h5.35v5.71h-5.35zM145 187.78h5.35v5.71h-5.35zM135 193.14h5.35v5.71h-5.35zM145 193.14h5.35v5.71h-5.35zM140 198.50h10.35v5.71h-10.35z"/>
<path fill="#fcd5bf" d="M45 0.00h5.35v5.71h-5.35zM85 0.00h10.35v5.71h-10.35zM85 5.37h10.35v5.71h-10.35zM85 10.73h10.35v5.71h-10.35zM115 21.46h5.35v5.71h-5.35zM60 26.83h5.35v5.71h-5.35zM115 26.83h5.35v5.71h-5.35zM115 32.19h5.35v5.71h-5.35zM115 42.92h5.35v5.71h-5.35zM25 53.65h5.35v5.71h-5.35zM25 64.38h5.35v5.71h-5.35zM115 80.48h5.35v5.71h-5.35zM110 128.76h5.35v5.71h-5.35zM120 160.95h5.35v5.71h-5.35zM115 177.05h5.35v5.71h-5.35zM115 187.78h5.35v5.71h-5.35z"/>
<path fill="#f5aa89" d="M50 0.00h5.35v5.71h-5.35zM65 0.00h15.35v5.71h-15.35zM45 5.37h5.35v5.71h-5.35zM105 10.73h5.35v5.71h-5.35zM65 16.09h5.35v5.71h-5.35zM100 16.09h10.35v5.71h-10.35zM70 21.46h20.35v5.71h-20.35zM95 21.46h5.35v5.71h-5.35zM75 26.83h15.35v5.71h-15.35zM75 32.19h10.35v5.71h-10.35zM110 37.55h5.35v5.71h-5.35zM70 42.92h5.35v5.71h-5.35zM75 48.29h5.35v5.71h-5.35zM75 69.75h5.35v5.71h-5.35zM80 75.11h5.35v5.71h-5.35zM105 144.86h5.35v5.71h-5.35zM110 150.22h5.35v5.71h-5.35zM110 155.59h5.35v5.71h-5.35zM110 160.95h5.35v5.71h-5.35zM110 166.31h5.35v5.71h-5.35zM110 171.68h5.35v5.71h-5.35z"/>
<path fill="#f6b394" d="M55 0.00h5.35v5.71h-5.35zM105 0.00h5.35v5.71h-5.35zM105 5.37h5.35v5.71h-5.35zM100 10.73h5.35v5.71h-5.35zM60 16.09h5.35v5.71h-5.35zM80 16.09h5.35v5.71h-5.35zM95 16.09h5.35v5.71h-5.35zM90 21.46h5.35v5.71h-5.35zM70 26.83h5.35v5.71h-5.35zM110 26.83h5.35v5.71h-5.35zM70 32.19h5.35v5.71h-5.35zM110 32.19h5.35v5.71h-5.35zM65 37.55h10.35v5.71h-10.35zM100 128.76h5.35v5.71h-5.35zM115 139.49h5.35v5.71h-5.35zM110 177.05h5.35v5.71h-5.35zM110 182.41h5.35v5.71h-5.35zM105 187.78h5.35v5.71h-5.35zM105 193.14h5.35v5.71h-5.35zM105 198.50h5.35v5.71h-5.35z"/>
<path fill="#f8bb9e" d="M80 0.00h5.35v5.71h-5.35zM100 0.00h5.35v5.71h-5.35zM80 5.37h5.35v5.71h-5.35zM100 5.37h5.35v5.71h-5.35zM80 10.73h5.35v5.71h-5.35zM110 21.46h5.35v5.71h-5.35zM110 123.40h5.35v5.71h-5.35z"/>
<path fill="#f9c4a9" d="M95 0.00h5.35v5.71h-5.35zM110 0.00h5.35v5.71h-5.35zM95 5.37h5.35v5.71h-5.35zM110 5.37h5.35v5.71h-5.35zM95 10.73h5.35v5.71h-5.35zM110 10.73h5.35v5.71h-5.35zM85 16.09h10.35v5.71h-10.35zM110 16.09h5.35v5.71h-5.35zM115 101.94h5.35v5.71h-5.35zM105 128.76h5.35v5.71h-5.35zM115 150.22h5.35v5.71h-5.35zM115 155.59h5.35v5.71h-5.35zM115 160.95h5.35v5.71h-5.35zM115 166.31h5.35v5.71h-5.35z"/>
<path fill="#fce0d0" d="M115 0.00h5.35v5.71h-5.35zM120 16.09h5.35v5.71h-5.35zM120 21.46h5.35v5.71h-5.35zM25 26.83h5.35v5.71h-5.35zM120 26.83h10.35v5.71h-10.35zM25 32.19h5.35v5.71h-5.35zM25 37.55h5.35v5.71h-5.35zM25 42.92h5.35v5.71h-5.35zM120 48.29h5.35v5.71h-5.35zM30 53.65h5.35v5.71h-5.35zM120 53.65h5.35v5.71h-5.35zM120 59.02h5.35v5.71h-5.35zM120 64.38h5.35v5.71h-5.35zM30 69.75h5.35v5.71h-5.35zM120 69.75h5.35v5.71h-5.35zM120 75.11h5.35v5.71h-5.35zM25 85.84h5.35v5.71h-5.35zM120 85.84h5.35v5.71h-5.35zM25 91.20h5.35v5.71h-5.35zM120 91.20h5.35v5.71h-5.35zM120 96.57h5.35v5.71h-5.35zM120 101.94h5.35v5.71h-5.35zM120 107.30h5.35v5.71h-5.35zM120 123.40h5.35v5.71h-5.35zM115 128.76h5.35v5.71h-5.35zM115 134.12h5.35v5.71h-5.35zM125 134.12h5.35v5.71h-5.35zM130 139.49h5.35v5.71h-5.35zM120 144.86h5.35v5.71h-5.35zM125 150.22h10.35v5.71h-10.35zM125 155.59h5.35v5.71h-5.35zM125 160.95h5.35v5.71h-5.35zM125 171.68h5.35v5.71h-5.35zM125 177.05h5.35v5.71h-5.35zM125 182.41h5.35v5.71h-5.35zM120 187.78h10.35v5.71h-10.35zM120 193.14h5.35v5.71h-5.35zM120 198.50h5.35v5.71h-5.35z"/>
<path fill="#f9eee7" d="M200 0.00h15.35v5.71h-15.35zM25 5.37h10.35v5.71h-10.35zM125 5.37h5.35v5.71h-5.35zM200 5.37h15.35v5.71h-15.35zM30 10.73h5.35v5.71h-5.35zM130 10.73h5.35v5.71h-5.35zM200 10.73h15.35v5.71h-15.35zM135 16.09h5.35v5.71h-5.35zM195 16.09h20.35v5.71h-20.35zM35 21.46h5.35v5.71h-5.35zM135 21.46h15.35v5.71h-15.35zM160 21.46h5.35v5.71h-5.35zM190 21.46h20.35v5.71h-20.35zM35 26.83h5.35v5.71h-5.35zM135 26.83h25.35v5.71h-25.35zM165 26.83h5.35v5.71h-5.35zM180 26.83h15.35v5.71h-15.35zM200 26.83h15.35v5.71h-15.35zM40 32.19h15.35v5.71h-15.35zM140 32.19h5.35v5.71h-5.35zM155 32.19h5.35v5.71h-5.35zM170 32.19h5.35v5.71h-5.35zM180 32.19h5.35v5.71h-5.35zM200 32.19h5.35v5.71h-5.35zM135 37.55h5.35v5.71h-5.35zM150 37.55h5.35v5.71h-5.35zM180 37.55h10.35v5.71h-10.35zM130 42.92h5.35v5.71h-5.35zM185 42.92h5.35v5.71h-5.35zM170 48.29h15.35v5.71h-15.35zM170 53.65h10.35v5.71h-10.35zM35 59.02h5.35v5.71h-5.35zM170 59.02h5.35v5.71h-5.35zM35 64.38h5.35v5.71h-5.35zM170 64.38h5.35v5.71h-5.35zM150 69.75h20.35v5.71h-20.35zM210 69.75h5.35v5.71h-5.35zM140 75.11h15.35v5.71h-15.35zM160 75.11h10.35v5.71h-10.35zM125 80.48h45.35v5.71h-45.35zM135 85.84h20.35v5.71h-20.35zM160 85.84h5.35v5.71h-5.35zM20 91.20h5.35v5.71h-5.35zM135 91.20h25.35v5.71h-25.35zM20 96.57h5.35v5.71h-5.35zM135 96.57h25.35v5.71h-25.35zM20 101.94h5.35v5.71h-5.35zM150 101.94h5.35v5.71h-5.35zM20 107.30h10.35v5.71h-10.35zM25 112.67h5.35v5.71h-5.35zM130 118.03h5.35v5.71h-5.35zM140 123.40h5.35v5.71h-5.35zM145 128.76h5.35v5.71h-5.35zM25 134.12h5.35v5.71h-5.35zM140 134.12h5.35v5.71h-5.35zM145 177.05h5.35v5.71h-5.35zM145 182.41h10.35v5.71h-10.35zM135 187.78h10.35v5.71h-10.35zM150 187.78h5.35v5.71h-5.35zM140 193.14h5.35v5.71h-5.35zM150 193.14h10.35v5.71h-10.35zM150 198.50h10.35v5.71h-10.35z"/>
<path fill="#ecf2f5" d="M5 5.37h5.35v5.71h-5.35zM15 5.37h5.35v5.71h-5.35zM160 5.37h20.35v5.71h-20.35zM15 10.73h5.35v5.71h-5.35zM175 10.73h5.35v5.71h-5.35zM45 48.29h5.35v5.71h-5.35z"/>
<path fill="#e6eff4" d="M10 5.37h5.35v5.71h-5.35zM10 10.73h5.35v5.71h-5.35z"/>
<path fill="#db6b55" d="M50 5.37h10.35v5.71h-10.35zM95 42.92h5.35v5.71h-5.35zM105 42.92h5.35v5.71h-5.35zM65 64.38h5.35v5.71h-5.35zM105 118.03h5.35v5.71h-5.35zM100 123.40h5.35v5.71h-5.35z"/>
<path fill="#ee9677" d="M70 5.37h5.35v5.71h-5.35zM95 26.83h5.35v5.71h-5.35zM105 26.83h5.35v5.71h-5.35zM90 32.19h5.35v5.71h-5.35zM105 32.19h5.35v5.71h-5.35zM85 37.55h5.35v5.71h-5.35zM85 42.92h5.35v5.71h-5.35zM85 48.29h5.35v5.71h-5.35zM70 53.65h5.35v5.71h-5.35zM70 59.02h5.35v5.71h-5.35zM85 59.02h5.35v5.71h-5.35zM70 64.38h5.35v5.71h-5.35zM85 64.38h5.35v5.71h-5.35zM110 64.38h5.35v5.71h-5.35zM70 69.75h5.35v5.71h-5.35zM85 69.75h5.35v5.71h-5.35zM110 69.75h5.35v5.71h-5.35zM70 75.11h5.35v5.71h-5.35zM85 75.11h5.35v5.71h-5.35zM70 80.48h5.35v5.71h-5.35zM80 85.84h10.35v5.71h-10.35zM110 85.84h5.35v5.71h-5.35zM110 91.20h5.35v5.71h-5.35zM80 96.57h5.35v5.71h-5.35zM110 96.57h5.35v5.71h-5.35zM110 101.94h5.35v5.71h-5.35zM110 112.67h5.35v5.71h-5.35zM30 144.86h5.35v5.71h-5.35z"/>
<path fill="#f2a17f" d="M75 5.37h5.35v5.71h-5.35zM70 10.73h10.35v5.71h-10.35zM70 16.09h10.35v5.71h-10.35zM100 21.46h10.35v5.71h-10.35zM90 26.83h5.35v5.71h-5.35zM85 32.19h5.35v5.71h-5.35zM75 37.55h10.35v5.71h-10.35zM65 42.92h5.35v5.71h-5.35zM75 42.92h10.35v5.71h-10.35zM110 42.92h5.35v5.71h-5.35zM70 48.29h5.35v5.71h-5.35zM80 48.29h5.35v5.71h-5.35zM110 48.29h5.35v5.71h-5.35zM75 53.65h10.35v5.71h-10.35zM110 53.65h5.35v5.71h-5.35zM75 59.02h10.35v5.71h-10.35zM110 59.02h5.35v5.71h-5.35zM75 64.38h10.35v5.71h-10.35zM80 69.75h5.35v5.71h-5.35zM75 75.11h5.35v5.71h-5.35zM110 75.11h5.35v5.71h-5.35zM75 80.48h15.35v5.71h-15.35zM110 80.48h5.35v5.71h-5.35zM75 91.20h15.35v5.71h-15.35zM110 118.03h5.35v5.71h-5.35z"/>
<path fill="#fddcc9" d="M115 5.37h5.35v5.71h-5.35zM115 10.73h5.35v5.71h-5.35zM115 16.09h5.35v5.71h-5.35zM25 48.29h5.35v5.71h-5.35zM30 59.02h5.35v5.71h-5.35zM30 64.38h5.35v5.71h-5.35zM25 69.75h5.35v5.71h-5.35zM115 123.40h5.35v5.71h-5.35zM110 134.12h5.35v5.71h-5.35zM125 139.49h5.35v5.71h-5.35zM115 144.86h5.35v5.71h-5.35zM120 150.22h5.35v5.71h-5.35zM120 155.59h5.35v5.71h-5.35zM120 166.31h10.35v5.71h-10.35zM120 171.68h5.35v5.71h-5.35zM120 177.05h5.35v5.71h-5.35zM120 182.41h5.35v5.71h-5.35zM115 193.14h5.35v5.71h-5.35zM115 198.50h5.35v5.71h-5.35z"/>
<path fill="#e98b6e" d="M50 10.73h5.35v5.71h-5.35zM100 26.83h5.35v5.71h-5.35zM95 32.19h5.35v5.71h-5.35zM90 37.55h5.35v5.71h-5.35zM65 48.29h5.35v5.71h-5.35zM85 53.65h5.35v5.71h-5.35zM90 64.38h5.35v5.71h-5.35zM75 85.84h5.35v5.71h-5.35zM70 91.20h5.35v5.71h-5.35zM85 96.57h5.35v5.71h-5.35zM75 101.94h15.35v5.71h-15.35zM110 107.30h5.35v5.71h-5.35zM105 123.40h5.35v5.71h-5.35zM95 128.76h5.35v5.71h-5.35zM100 198.50h5.35v5.71h-5.35z"/>
<path fill="#e48066" d="M60 10.73h5.35v5.71h-5.35zM100 32.19h5.35v5.71h-5.35zM95 37.55h5.35v5.71h-5.35zM105 37.55h5.35v5.71h-5.35zM90 42.92h5.35v5.71h-5.35zM90 48.29h5.35v5.71h-5.35zM90 53.65h5.35v5.71h-5.35zM90 59.02h5.35v5.71h-5.35zM90 69.75h5.35v5.71h-5.35zM90 75.11h5.35v5.71h-5.35zM90 80.48h5.35v5.71h-5.35zM90 85.84h5.35v5.71h-5.35zM90 91.20h5.35v5.71h-5.35zM75 96.57h5.35v5.71h-5.35zM90 96.57h5.35v5.71h-5.35zM105 177.05h5.35v5.71h-5.35zM105 182.41h5.35v5.71h-5.35zM100 187.78h5.35v5.71h-5.35zM100 193.14h5.35v5.71h-5.35z"/>
<path fill="#fbe5d8" d="M120 10.73h5.35v5.71h-5.35zM25 16.09h5.35v5.71h-5.35zM125 16.09h5.35v5.71h-5.35zM25 21.46h5.35v5.71h-5.35zM125 21.46h5.35v5.71h-5.35zM130 26.83h5.35v5.71h-5.35zM120 32.19h5.35v5.71h-5.35zM20 37.55h5.35v5.71h-5.35zM120 37.55h5.35v5.71h-5.35zM20 42.92h5.35v5.71h-5.35zM120 42.92h5.35v5.71h-5.35zM160 42.92h5.35v5.71h-5.35zM30 48.29h5.35v5.71h-5.35zM125 48.29h5.35v5.71h-5.35zM145 48.29h5.35v5.71h-5.35zM20 53.65h5.35v5.71h-5.35zM130 53.65h5.35v5.71h-5.35zM145 53.65h5.35v5.71h-5.35zM20 59.02h5.35v5.71h-5.35zM125 59.02h10.35v5.71h-10.35zM125 64.38h10.35v5.71h-10.35zM125 69.75h10.35v5.71h-10.35zM20 75.11h15.35v5.71h-15.35zM25 80.48h5.35v5.71h-5.35zM125 96.57h5.35v5.71h-5.35zM125 101.94h10.35v5.71h-10.35zM125 107.30h15.35v5.71h-15.35zM120 112.67h15.35v5.71h-15.35zM120 118.03h10.35v5.71h-10.35zM120 128.76h10.35v5.71h-10.35zM120 134.12h5.35v5.71h-5.35zM130 134.12h5.35v5.71h-5.35zM25 139.49h5.35v5.71h-5.35zM135 139.49h5.35v5.71h-5.35zM125 144.86h15.35v5.71h-15.35zM135 150.22h5.35v5.71h-5.35zM130 155.59h10.35v5.71h-10.35zM130 160.95h5.35v5.71h-5.35zM130 166.31h5.35v5.71h-5.35zM130 171.68h10.35v5.71h-10.35zM130 177.05h5.35v5.71h-5.35zM130 182.41h10.35v5.71h-10.35zM130 187.78h5.35v5.71h-5.35zM125 193.14h10.35v5.71h-10.35zM125 198.50h15.35v5.71h-15.35z"/>
<path fill="#fbccb4" d="M65 32.19h5.35v5.71h-5.35zM115 37.55h5.35v5.71h-5.35zM115 48.29h5.35v5.71h-5.35zM115 53.65h5.35v5.71h-5.35zM25 59.02h5.35v5.71h-5.35zM115 59.02h5.35v5.71h-5.35zM115 64.38h5.35v5.71h-5.35zM115 69.75h5.35v5.71h-5.35zM115 75.11h5.35v5.71h-5.35zM115 85.84h5.35v5.71h-5.35zM115 91.20h5.35v5.71h-5.35zM115 96.57h5.35v5.71h-5.35zM115 107.30h5.35v5.71h-5.35zM115 112.67h5.35v5.71h-5.35zM115 118.03h5.35v5.71h-5.35zM120 139.49h5.35v5.71h-5.35zM110 144.86h5.35v5.71h-5.35zM115 171.68h5.35v5.71h-5.35zM115 182.41h5.35v5.71h-5.35zM110 187.78h5.35v5.71h-5.35zM110 193.14h5.35v5.71h-5.35zM110 198.50h5.35v5.71h-5.35z"/>
<path fill="#df765e" d="M100 37.55h5.35v5.71h-5.35zM65 53.65h5.35v5.71h-5.35zM90 101.94h5.35v5.71h-5.35zM90 134.12h5.35v5.71h-5.35zM110 139.49h5.35v5.71h-5.35z"/>
<path fill="#d05548" d="M100 42.92h5.35v5.71h-5.35zM105 48.29h5.35v5.71h-5.35zM95 59.02h5.35v5.71h-5.35zM105 59.02h5.35v5.71h-5.35zM95 64.38h5.35v5.71h-5.35zM105 75.11h5.35v5.71h-5.35zM95 80.48h5.35v5.71h-5.35zM95 85.84h5.35v5.71h-5.35zM105 85.84h5.35v5.71h-5.35zM95 91.20h5.35v5.71h-5.35zM105 91.20h5.35v5.71h-5.35zM95 96.57h5.35v5.71h-5.35zM105 96.57h5.35v5.71h-5.35zM105 101.94h5.35v5.71h-5.35zM80 107.30h5.35v5.71h-5.35zM105 107.30h5.35v5.71h-5.35zM85 112.67h10.35v5.71h-10.35zM105 112.67h5.35v5.71h-5.35zM95 123.40h5.35v5.71h-5.35z"/>
<path fill="#d6604d" d="M95 48.29h5.35v5.71h-5.35zM95 53.65h5.35v5.71h-5.35zM105 53.65h5.35v5.71h-5.35zM95 69.75h5.35v5.71h-5.35zM95 75.11h5.35v5.71h-5.35zM85 107.30h10.35v5.71h-10.35zM90 128.76h5.35v5.71h-5.35z"/>
<path fill="#c53e3d" d="M100 48.29h5.35v5.71h-5.35zM100 53.65h5.35v5.71h-5.35zM100 69.75h5.35v5.71h-5.35zM100 75.11h5.35v5.71h-5.35zM100 80.48h5.35v5.71h-5.35zM80 112.67h5.35v5.71h-5.35zM90 118.03h15.35v5.71h-15.35z"/>
<path fill="#bf3338" d="M100 59.02h5.35v5.71h-5.35zM100 64.38h5.35v5.71h-5.35zM100 85.84h5.35v5.71h-5.35zM100 91.20h5.35v5.71h-5.35zM100 96.57h5.35v5.71h-5.35zM100 101.94h5.35v5.71h-5.35zM100 107.30h5.35v5.71h-5.35zM100 112.67h5.35v5.71h-5.35zM90 123.40h5.35v5.71h-5.35z"/>
<path fill="#cb4942" d="M105 64.38h5.35v5.71h-5.35zM105 69.75h5.35v5.71h-5.35zM105 80.48h5.35v5.71h-5.35zM95 101.94h5.35v5.71h-5.35zM95 107.30h5.35v5.71h-5.35zM95 112.67h5.35v5.71h-5.35z"/>
<path fill="#ba2832" d="M85 118.03h5.35v5.71h-5.35z"/>
</g>
<path d="M-1 -1h31v5.4h-31zM30 -1h80v4.4h-80zM110 -1h45v2.6h-45z" fill="#98b7e2" shape-rendering="crispEdges"/>
<path d="M0.3 -1L6.5 209.4M31.6 -1L37.5 209.4M62.9 -1L68.5 209.4M94.2 -1L99.5 209.4M125.5 -1L130.5 209.4M156.8 -1L161.5 209.4M188.1 -1L192.5 209.4M219.4 -1L223.5 209.4M-1 19.0L219.5 14.5M-1 45.8L219.5 41.2M-1 72.6L219.5 68.0M-1 99.4L219.5 94.8M-1 126.2L219.5 121.5M-1 153.0L219.5 148.2M-1 179.8L219.5 175.0M-1 206.6L219.5 201.8" stroke="#b0b0b0" stroke-width="1.05" fill="none" opacity="0.93"/>
<path d="M169.2 208.6L169.2 203.0L168.8 195.3L168.2 189.5L166.3 185.0L163.7 178.6L161.1 173.5L157.9 169.6L154.1 166.8L150.8 166.0L150.0 164.5L150.8 160.6L150.2 156.1L148.7 151.0L147.6 147.1L147.9 144.6L150.2 142.0L154.1 138.1L156.6 134.3L158.6 129.8L159.8 123.4L161.1 119.5L164.3 116.7L167.6 109.6L170.8 99.3L174.6 86.5L177.8 73.6L182.3 63.3L187.5 54.4L192.0 47.9L197.8 43.8L203.6 41.8L207.4 40.5L209.3 40.0L211.0 41.8L211.5 44.1L210.4 46.4L208.7 49.2L206.8 55.6L204.8 64.6L203.6 73.6L201.6 83.9L200.1 89.1L200.3 92.3L202.3 95.5L204.8 100.0L206.8 103.8L207.0 107.0L205.2 109.6L204.6 111.5L205.5 113.1L207.0 112.8L208.1 110.3L209.3 107.7L211.0 108.3L211.9 110.9L210.6 115.4L208.1 118.9L206.5 121.8L206.1 123.4L206.8 127.2L204.8 131.1L205.5 134.3L208.1 136.9L211.9 137.8L215.8 136.2L217.7 132.4L219.5 130.5" stroke="#7e7e7e" stroke-width="1.35" fill="none" stroke-linejoin="round"/>
</g>
<rect x="-0.30" y="-0.10" width="219.0" height="209.0" fill="none" stroke="#000" stroke-width="1.1"/>
</g>
<linearGradient id="gq" x1="0" y1="0" x2="0" y2="1"><stop offset="0.00" stop-color="#67001f"/><stop offset="0.05" stop-color="#8a0b25"/><stop offset="0.10" stop-color="#b1182b"/><stop offset="0.15" stop-color="#c43b3c"/><stop offset="0.20" stop-color="#d6604d"/><stop offset="0.25" stop-color="#e48066"/><stop offset="0.30" stop-color="#f3a481"/><stop offset="0.35" stop-color="#f8bfa4"/><stop offset="0.40" stop-color="#fddbc7"/><stop offset="0.45" stop-color="#fae9df"/><stop offset="0.50" stop-color="#f7f6f6"/><stop offset="0.55" stop-color="#e4eef4"/><stop offset="0.60" stop-color="#d1e5f0"/><stop offset="0.65" stop-color="#b1d5e7"/><stop offset="0.70" stop-color="#90c4dd"/><stop offset="0.75" stop-color="#6bacd1"/><stop offset="0.80" stop-color="#4393c3"/><stop offset="0.85" stop-color="#327cb7"/><stop offset="0.90" stop-color="#2065ab"/><stop offset="0.95" stop-color="#124984"/><stop offset="1.00" stop-color="#053061"/></linearGradient>
<rect x="1039.2" y="182.8" width="2.4" height="48.2" fill="url(#gq)" stroke="#000" stroke-width="1.1"/>
<path d="M1041.6 191.8h5.4" stroke="#000" stroke-width="1.1"/>
<path d="M1041.6 206.9h5.4" stroke="#000" stroke-width="1.1"/>
<path d="M1041.6 222.0h5.4" stroke="#000" stroke-width="1.1"/>
<g transform="translate(150.7,396.7)">
<clipPath id="cus"><rect x="-0.20" y="-0.20" width="219.0" height="209.0"/></clipPath>
<g clip-path="url(#cus)">
<rect x="-2" y="-2" width="222.5" height="212.4" fill="#98b7e2"/>
<polygon points="169.2,208.6 169.2,203.0 168.8,195.3 168.2,189.5 166.3,185.0 163.7,178.6 161.1,173.5 157.9,169.6 154.1,166.8 150.8,166.0 150.0,164.5 150.8,160.6 150.2,156.1 148.7,151.0 147.6,147.1 147.9,144.6 150.2,142.0 154.1,138.1 156.6,134.3 158.6,129.8 159.8,123.4 161.1,119.5 164.3,116.7 167.6,109.6 170.8,99.3 174.6,86.5 177.8,73.6 182.3,63.3 187.5,54.4 192.0,47.9 197.8,43.8 203.6,41.8 207.4,40.5 209.3,40.0 211.0,41.8 211.5,44.1 210.4,46.4 208.7,49.2 206.8,55.6 204.8,64.6 203.6,73.6 201.6,83.9 200.1,89.1 200.3,92.3 202.3,95.5 204.8,100.0 206.8,103.8 207.0,107.0 205.2,109.6 204.6,111.5 205.5,113.1 207.0,112.8 208.1,110.3 209.3,107.7 211.0,108.3 211.9,110.9 210.6,115.4 208.1,118.9 206.5,121.8 206.1,123.4 206.8,127.2 204.8,131.1 205.5,134.3 208.1,136.9 211.9,137.8 215.8,136.2 217.7,132.4 219.5,130.5 222,130 222,212 169,212" fill="#efefdb"/>
<g transform="matrix(1 -0.0215 0.029 1 -0.4 4.1)" shape-rendering="crispEdges">
<rect x="0" y="0" width="215.00" height="203.87" fill="#e9f6ab"/>
<path fill="#cfbb63" d="M0 0.00h10.35v5.71h-10.35zM20 0.00h5.35v5.71h-5.35zM30 0.00h5.35v5.71h-5.35zM50 0.00h10.35v5.71h-10.35zM65 0.00h30.35v5.71h-30.35zM5 5.37h10.35v5.71h-10.35zM20 5.37h5.35v5.71h-5.35zM75 5.37h20.35v5.71h-20.35zM10 10.73h20.35v5.71h-20.35zM75 10.73h20.35v5.71h-20.35zM15 16.09h10.35v5.71h-10.35zM70 16.09h25.35v5.71h-25.35zM15 21.46h5.35v5.71h-5.35zM75 21.46h10.35v5.71h-10.35zM195 21.46h15.35v5.71h-15.35zM15 26.83h5.35v5.71h-5.35zM75 26.83h5.35v5.71h-5.35zM185 26.83h15.35v5.71h-15.35zM205 26.83h10.35v5.71h-10.35zM10 32.19h10.35v5.71h-10.35zM40 32.19h15.35v5.71h-15.35zM70 32.19h10.35v5.71h-10.35zM120 32.19h5.35v5.71h-5.35zM180 32.19h10.35v5.71h-10.35zM20 37.55h25.35v5.71h-25.35zM50 37.55h5.35v5.71h-5.35zM70 37.55h10.35v5.71h-10.35zM175 37.55h10.35v5.71h-10.35zM45 42.92h5.35v5.71h-5.35zM70 42.92h10.35v5.71h-10.35zM170 42.92h10.35v5.71h-10.35zM45 48.29h5.35v5.71h-5.35zM70 48.29h5.35v5.71h-5.35zM165 48.29h5.35v5.71h-5.35zM35 53.65h15.35v5.71h-15.35zM75 53.65h10.35v5.71h-10.35zM160 53.65h10.35v5.71h-10.35zM10 59.02h25.35v5.71h-25.35zM40 59.02h10.35v5.71h-10.35zM80 59.02h5.35v5.71h-5.35zM155 59.02h15.35v5.71h-15.35zM5 64.38h5.35v5.71h-5.35zM80 64.38h5.35v5.71h-5.35zM150 64.38h15.35v5.71h-15.35zM210 64.38h5.35v5.71h-5.35zM0 69.75h10.35v5.71h-10.35zM80 69.75h5.35v5.71h-5.35zM155 69.75h10.35v5.71h-10.35zM0 75.11h5.35v5.71h-5.35zM80 75.11h5.35v5.71h-5.35zM160 75.11h10.35v5.71h-10.35zM0 80.48h10.35v5.71h-10.35zM15 80.48h10.35v5.71h-10.35zM80 80.48h10.35v5.71h-10.35zM160 80.48h10.35v5.71h-10.35zM0 85.84h25.35v5.71h-25.35zM80 85.84h5.35v5.71h-5.35zM150 85.84h15.35v5.71h-15.35zM0 91.20h15.35v5.71h-15.35zM20 91.20h5.35v5.71h-5.35zM80 91.20h5.35v5.71h-5.35zM105 91.20h5.35v5.71h-5.35zM145 91.20h10.35v5.71h-10.35zM5 96.57h20.35v5.71h-20.35zM80 96.57h5.35v5.71h-5.35zM100 96.57h15.35v5.71h-15.35zM145 96.57h5.35v5.71h-5.35zM10 101.94h5.35v5.71h-5.35zM20 101.94h5.35v5.71h-5.35zM75 101.94h10.35v5.71h-10.35zM105 101.94h5.35v5.71h-5.35zM140 101.94h10.35v5.71h-10.35zM10 107.30h5.35v5.71h-5.35zM20 107.30h5.35v5.71h-5.35zM80 107.30h5.35v5.71h-5.35zM140 107.30h5.35v5.71h-5.35zM15 112.67h10.35v5.71h-10.35zM80 112.67h5.35v5.71h-5.35zM135 112.67h10.35v5.71h-10.35zM15 118.03h10.35v5.71h-10.35zM85 118.03h10.35v5.71h-10.35zM130 118.03h10.35v5.71h-10.35zM15 123.40h10.35v5.71h-10.35zM95 123.40h10.35v5.71h-10.35zM115 123.40h25.35v5.71h-25.35zM15 128.76h5.35v5.71h-5.35zM25 128.76h5.35v5.71h-5.35zM105 128.76h35.35v5.71h-35.35zM15 134.12h5.35v5.71h-5.35zM25 134.12h5.35v5.71h-5.35zM110 134.12h25.35v5.71h-25.35zM110 139.49h10.35v5.71h-10.35zM130 139.49h5.35v5.71h-5.35zM30 144.86h5.35v5.71h-5.35zM105 144.86h10.35v5.71h-10.35zM135 144.86h5.35v5.71h-5.35zM115 150.22h5.35v5.71h-5.35zM135 150.22h5.35v5.71h-5.35zM115 155.59h5.35v5.71h-5.35zM115 160.95h10.35v5.71h-10.35zM115 166.31h10.35v5.71h-10.35zM115 171.68h10.35v5.71h-10.35zM145 171.68h5.35v5.71h-5.35zM115 177.05h5.35v5.71h-5.35zM145 177.05h5.35v5.71h-5.35zM110 182.41h10.35v5.71h-10.35zM145 182.41h10.35v5.71h-10.35zM110 187.78h10.35v5.71h-10.35zM140 187.78h10.35v5.71h-10.35zM110 193.14h10.35v5.71h-10.35zM135 193.14h15.35v5.71h-15.35zM110 198.50h10.35v5.71h-10.35zM140 198.50h10.35v5.71h-10.35z"/>
<path fill="#cfb962" d="M10 0.00h5.35v5.71h-5.35zM40 0.00h10.35v5.71h-10.35zM15 5.37h5.35v5.71h-5.35zM25 5.37h10.35v5.71h-10.35zM45 5.37h15.35v5.71h-15.35zM70 5.37h5.35v5.71h-5.35zM30 10.73h5.35v5.71h-5.35zM50 10.73h5.35v5.71h-5.35zM60 10.73h5.35v5.71h-5.35zM70 10.73h5.35v5.71h-5.35zM25 16.09h5.35v5.71h-5.35zM60 16.09h10.35v5.71h-10.35zM20 21.46h5.35v5.71h-5.35zM35 21.46h5.35v5.71h-5.35zM70 21.46h5.35v5.71h-5.35zM20 26.83h10.35v5.71h-10.35zM35 26.83h5.35v5.71h-5.35zM60 26.83h5.35v5.71h-5.35zM70 26.83h5.35v5.71h-5.35zM200 26.83h5.35v5.71h-5.35zM20 32.19h20.35v5.71h-20.35zM65 32.19h5.35v5.71h-5.35zM190 32.19h5.35v5.71h-5.35zM200 32.19h5.35v5.71h-5.35zM65 37.55h5.35v5.71h-5.35zM185 37.55h10.35v5.71h-10.35zM50 42.92h5.35v5.71h-5.35zM65 42.92h5.35v5.71h-5.35zM180 42.92h10.35v5.71h-10.35zM50 48.29h5.35v5.71h-5.35zM65 48.29h5.35v5.71h-5.35zM170 48.29h10.35v5.71h-10.35zM50 53.65h5.35v5.71h-5.35zM65 53.65h10.35v5.71h-10.35zM170 53.65h5.35v5.71h-5.35zM35 59.02h5.35v5.71h-5.35zM50 59.02h10.35v5.71h-10.35zM70 59.02h10.35v5.71h-10.35zM170 59.02h5.35v5.71h-5.35zM10 64.38h20.35v5.71h-20.35zM35 64.38h5.35v5.71h-5.35zM65 64.38h15.35v5.71h-15.35zM165 64.38h10.35v5.71h-10.35zM10 69.75h20.35v5.71h-20.35zM70 69.75h10.35v5.71h-10.35zM165 69.75h5.35v5.71h-5.35zM210 69.75h5.35v5.71h-5.35zM5 75.11h5.35v5.71h-5.35zM15 75.11h15.35v5.71h-15.35zM70 75.11h10.35v5.71h-10.35zM210 75.11h5.35v5.71h-5.35zM10 80.48h5.35v5.71h-5.35zM25 80.48h5.35v5.71h-5.35zM70 80.48h10.35v5.71h-10.35zM210 80.48h5.35v5.71h-5.35zM25 85.84h5.35v5.71h-5.35zM75 85.84h5.35v5.71h-5.35zM25 91.20h5.35v5.71h-5.35zM70 91.20h10.35v5.71h-10.35zM155 91.20h10.35v5.71h-10.35zM0 96.57h5.35v5.71h-5.35zM25 96.57h5.35v5.71h-5.35zM75 96.57h5.35v5.71h-5.35zM150 96.57h10.35v5.71h-10.35zM5 101.94h5.35v5.71h-5.35zM25 101.94h5.35v5.71h-5.35zM150 101.94h10.35v5.71h-10.35zM5 107.30h5.35v5.71h-5.35zM25 107.30h5.35v5.71h-5.35zM145 107.30h15.35v5.71h-15.35zM10 112.67h5.35v5.71h-5.35zM25 112.67h5.35v5.71h-5.35zM145 112.67h5.35v5.71h-5.35zM25 118.03h5.35v5.71h-5.35zM140 118.03h5.35v5.71h-5.35zM25 123.40h5.35v5.71h-5.35zM90 123.40h5.35v5.71h-5.35zM140 123.40h5.35v5.71h-5.35zM30 128.76h5.35v5.71h-5.35zM95 128.76h10.35v5.71h-10.35zM140 128.76h10.35v5.71h-10.35zM90 134.12h5.35v5.71h-5.35zM135 134.12h10.35v5.71h-10.35zM25 139.49h5.35v5.71h-5.35zM135 139.49h5.35v5.71h-5.35zM110 150.22h5.35v5.71h-5.35zM110 155.59h5.35v5.71h-5.35zM110 160.95h5.35v5.71h-5.35zM110 166.31h5.35v5.71h-5.35zM110 171.68h5.35v5.71h-5.35zM105 177.05h10.35v5.71h-10.35zM105 182.41h5.35v5.71h-5.35zM100 187.78h10.35v5.71h-10.35zM150 187.78h5.35v5.71h-5.35zM100 193.14h10.35v5.71h-10.35zM150 193.14h10.35v5.71h-10.35zM100 198.50h10.35v5.71h-10.35zM150 198.50h10.35v5.71h-10.35z"/>
<path fill="#d0bd65" d="M95 0.00h10.35v5.71h-10.35zM115 0.00h30.35v5.71h-30.35zM170 0.00h45.35v5.71h-45.35zM0 5.37h5.35v5.71h-5.35zM95 5.37h10.35v5.71h-10.35zM120 5.37h25.35v5.71h-25.35zM165 5.37h50.35v5.71h-50.35zM0 10.73h10.35v5.71h-10.35zM95 10.73h5.35v5.71h-5.35zM125 10.73h55.35v5.71h-55.35zM185 10.73h30.35v5.71h-30.35zM5 16.09h10.35v5.71h-10.35zM95 16.09h5.35v5.71h-5.35zM125 16.09h45.35v5.71h-45.35zM190 16.09h25.35v5.71h-25.35zM5 21.46h10.35v5.71h-10.35zM85 21.46h15.35v5.71h-15.35zM115 21.46h50.35v5.71h-50.35zM170 21.46h25.35v5.71h-25.35zM210 21.46h5.35v5.71h-5.35zM5 26.83h10.35v5.71h-10.35zM80 26.83h15.35v5.71h-15.35zM110 26.83h25.35v5.71h-25.35zM140 26.83h25.35v5.71h-25.35zM170 26.83h15.35v5.71h-15.35zM5 32.19h5.35v5.71h-5.35zM80 32.19h10.35v5.71h-10.35zM105 32.19h15.35v5.71h-15.35zM125 32.19h5.35v5.71h-5.35zM145 32.19h15.35v5.71h-15.35zM170 32.19h10.35v5.71h-10.35zM5 37.55h15.35v5.71h-15.35zM45 37.55h5.35v5.71h-5.35zM80 37.55h10.35v5.71h-10.35zM100 37.55h30.35v5.71h-30.35zM145 37.55h30.35v5.71h-30.35zM0 42.92h45.35v5.71h-45.35zM80 42.92h10.35v5.71h-10.35zM95 42.92h25.35v5.71h-25.35zM130 42.92h40.35v5.71h-40.35zM0 48.29h10.35v5.71h-10.35zM35 48.29h10.35v5.71h-10.35zM75 48.29h40.35v5.71h-40.35zM130 48.29h15.35v5.71h-15.35zM155 48.29h10.35v5.71h-10.35zM0 53.65h35.35v5.71h-35.35zM85 53.65h30.35v5.71h-30.35zM135 53.65h25.35v5.71h-25.35zM0 59.02h10.35v5.71h-10.35zM85 59.02h30.35v5.71h-30.35zM135 59.02h20.35v5.71h-20.35zM0 64.38h5.35v5.71h-5.35zM85 64.38h5.35v5.71h-5.35zM95 64.38h20.35v5.71h-20.35zM135 64.38h15.35v5.71h-15.35zM85 69.75h30.35v5.71h-30.35zM135 69.75h20.35v5.71h-20.35zM85 75.11h30.35v5.71h-30.35zM135 75.11h25.35v5.71h-25.35zM90 80.48h20.35v5.71h-20.35zM130 80.48h30.35v5.71h-30.35zM85 85.84h35.35v5.71h-35.35zM130 85.84h20.35v5.71h-20.35zM15 91.20h5.35v5.71h-5.35zM85 91.20h20.35v5.71h-20.35zM110 91.20h10.35v5.71h-10.35zM125 91.20h20.35v5.71h-20.35zM85 96.57h15.35v5.71h-15.35zM115 96.57h30.35v5.71h-30.35zM15 101.94h5.35v5.71h-5.35zM85 101.94h20.35v5.71h-20.35zM110 101.94h30.35v5.71h-30.35zM15 107.30h5.35v5.71h-5.35zM85 107.30h55.35v5.71h-55.35zM85 112.67h50.35v5.71h-50.35zM95 118.03h35.35v5.71h-35.35zM105 123.40h10.35v5.71h-10.35zM120 139.49h10.35v5.71h-10.35zM115 144.86h20.35v5.71h-20.35zM120 150.22h15.35v5.71h-15.35zM120 155.59h20.35v5.71h-20.35zM125 160.95h15.35v5.71h-15.35zM125 166.31h20.35v5.71h-20.35zM125 171.68h20.35v5.71h-20.35zM120 177.05h25.35v5.71h-25.35zM120 182.41h25.35v5.71h-25.35zM120 187.78h20.35v5.71h-20.35zM120 193.14h15.35v5.71h-15.35zM120 198.50h20.35v5.71h-20.35z"/>
<path fill="#d1bf67" d="M105 0.00h10.35v5.71h-10.35zM145 0.00h25.35v5.71h-25.35zM105 5.37h15.35v5.71h-15.35zM145 5.37h20.35v5.71h-20.35zM100 10.73h25.35v5.71h-25.35zM180 10.73h5.35v5.71h-5.35zM0 16.09h5.35v5.71h-5.35zM100 16.09h25.35v5.71h-25.35zM170 16.09h20.35v5.71h-20.35zM0 21.46h5.35v5.71h-5.35zM100 21.46h15.35v5.71h-15.35zM165 21.46h5.35v5.71h-5.35zM0 26.83h5.35v5.71h-5.35zM95 26.83h15.35v5.71h-15.35zM135 26.83h5.35v5.71h-5.35zM165 26.83h5.35v5.71h-5.35zM0 32.19h5.35v5.71h-5.35zM90 32.19h15.35v5.71h-15.35zM130 32.19h15.35v5.71h-15.35zM160 32.19h10.35v5.71h-10.35zM0 37.55h5.35v5.71h-5.35zM90 37.55h10.35v5.71h-10.35zM130 37.55h15.35v5.71h-15.35zM90 42.92h5.35v5.71h-5.35zM120 42.92h10.35v5.71h-10.35zM10 48.29h25.35v5.71h-25.35zM115 48.29h15.35v5.71h-15.35zM145 48.29h10.35v5.71h-10.35zM115 53.65h20.35v5.71h-20.35zM115 59.02h20.35v5.71h-20.35zM90 64.38h5.35v5.71h-5.35zM115 64.38h20.35v5.71h-20.35zM115 69.75h20.35v5.71h-20.35zM115 75.11h20.35v5.71h-20.35zM110 80.48h20.35v5.71h-20.35zM120 85.84h10.35v5.71h-10.35zM120 91.20h5.35v5.71h-5.35z"/>
<path fill="#ceb760" d="M30 16.09h5.35v5.71h-5.35zM25 21.46h5.35v5.71h-5.35zM30 26.83h5.35v5.71h-5.35zM195 32.19h5.35v5.71h-5.35zM180 48.29h5.35v5.71h-5.35zM175 53.65h5.35v5.71h-5.35zM30 64.38h5.35v5.71h-5.35zM30 69.75h5.35v5.71h-5.35zM30 75.11h5.35v5.71h-5.35zM30 80.48h5.35v5.71h-5.35zM210 85.84h5.35v5.71h-5.35zM30 91.20h5.35v5.71h-5.35zM210 91.20h5.35v5.71h-5.35zM210 96.57h5.35v5.71h-5.35zM0 101.94h5.35v5.71h-5.35zM150 112.67h5.35v5.71h-5.35zM145 118.03h5.35v5.71h-5.35zM145 123.40h5.35v5.71h-5.35zM90 128.76h5.35v5.71h-5.35z"/>
</g>
<path d="M-1 -1h31v5.4h-31zM30 -1h80v4.4h-80zM110 -1h45v2.6h-45z" fill="#98b7e2" shape-rendering="crispEdges"/>
<path d="M0.3 -1L6.5 209.4M31.6 -1L37.5 209.4M62.9 -1L68.5 209.4M94.2 -1L99.5 209.4M125.5 -1L130.5 209.4M156.8 -1L161.5 209.4M188.1 -1L192.5 209.4M219.4 -1L223.5 209.4M-1 19.0L219.5 14.5M-1 45.8L219.5 41.2M-1 72.6L219.5 68.0M-1 99.4L219.5 94.8M-1 126.2L219.5 121.5M-1 153.0L219.5 148.2M-1 179.8L219.5 175.0M-1 206.6L219.5 201.8" stroke="#b0b0b0" stroke-width="1.05" fill="none" opacity="0.93"/>
<path d="M169.2 208.6L169.2 203.0L168.8 195.3L168.2 189.5L166.3 185.0L163.7 178.6L161.1 173.5L157.9 169.6L154.1 166.8L150.8 166.0L150.0 164.5L150.8 160.6L150.2 156.1L148.7 151.0L147.6 147.1L147.9 144.6L150.2 142.0L154.1 138.1L156.6 134.3L158.6 129.8L159.8 123.4L161.1 119.5L164.3 116.7L167.6 109.6L170.8 99.3L174.6 86.5L177.8 73.6L182.3 63.3L187.5 54.4L192.0 47.9L197.8 43.8L203.6 41.8L207.4 40.5L209.3 40.0L211.0 41.8L211.5 44.1L210.4 46.4L208.7 49.2L206.8 55.6L204.8 64.6L203.6 73.6L201.6 83.9L200.1 89.1L200.3 92.3L202.3 95.5L204.8 100.0L206.8 103.8L207.0 107.0L205.2 109.6L204.6 111.5L205.5 113.1L207.0 112.8L208.1 110.3L209.3 107.7L211.0 108.3L211.9 110.9L210.6 115.4L208.1 118.9L206.5 121.8L206.1 123.4L206.8 127.2L204.8 131.1L205.5 134.3L208.1 136.9L211.9 137.8L215.8 136.2L217.7 132.4L219.5 130.5" stroke="#7e7e7e" stroke-width="1.35" fill="none" stroke-linejoin="round"/>
</g>
<rect x="-0.20" y="-0.20" width="219.0" height="209.0" fill="none" stroke="#000" stroke-width="1.1"/>
</g>
<linearGradient id="gus" x1="0" y1="0" x2="0" y2="1"><stop offset="0.00" stop-color="#221f1b"/><stop offset="0.05" stop-color="#322921"/><stop offset="0.10" stop-color="#433426"/><stop offset="0.15" stop-color="#533d2a"/><stop offset="0.20" stop-color="#62452d"/><stop offset="0.25" stop-color="#714d2f"/><stop offset="0.30" stop-color="#7f5430"/><stop offset="0.35" stop-color="#8c5b31"/><stop offset="0.40" stop-color="#996333"/><stop offset="0.45" stop-color="#a46c34"/><stop offset="0.50" stop-color="#af7536"/><stop offset="0.55" stop-color="#b7803b"/><stop offset="0.60" stop-color="#bf8b40"/><stop offset="0.65" stop-color="#c59647"/><stop offset="0.70" stop-color="#c8a250"/><stop offset="0.75" stop-color="#cbae58"/><stop offset="0.80" stop-color="#d0bd65"/><stop offset="0.85" stop-color="#d9ce77"/><stop offset="0.90" stop-color="#e0dc89"/><stop offset="0.95" stop-color="#e5e99a"/><stop offset="1.00" stop-color="#e9f6ab"/></linearGradient>
<rect x="383.1" y="476.9" width="2.4" height="48.2" fill="url(#gus)" stroke="#000" stroke-width="1.1"/>
<path d="M385.5 476.9h5.4" stroke="#000" stroke-width="1.1"/>
<path d="M385.5 525.1h5.4" stroke="#000" stroke-width="1.1"/>
<g transform="translate(478.8,396.7)">
<clipPath id="cvs"><rect x="-0.30" y="-0.20" width="219.0" height="209.0"/></clipPath>
<g clip-path="url(#cvs)">
<rect x="-2" y="-2" width="222.5" height="212.4" fill="#98b7e2"/>
<polygon points="169.2,208.6 169.2,203.0 168.8,195.3 168.2,189.5 166.3,185.0 163.7,178.6 161.1,173.5 157.9,169.6 154.1,166.8 150.8,166.0 150.0,164.5 150.8,160.6 150.2,156.1 148.7,151.0 147.6,147.1 147.9,144.6 150.2,142.0 154.1,138.1 156.6,134.3 158.6,129.8 159.8,123.4 161.1,119.5 164.3,116.7 167.6,109.6 170.8,99.3 174.6,86.5 177.8,73.6 182.3,63.3 187.5,54.4 192.0,47.9 197.8,43.8 203.6,41.8 207.4,40.5 209.3,40.0 211.0,41.8 211.5,44.1 210.4,46.4 208.7,49.2 206.8,55.6 204.8,64.6 203.6,73.6 201.6,83.9 200.1,89.1 200.3,92.3 202.3,95.5 204.8,100.0 206.8,103.8 207.0,107.0 205.2,109.6 204.6,111.5 205.5,113.1 207.0,112.8 208.1,110.3 209.3,107.7 211.0,108.3 211.9,110.9 210.6,115.4 208.1,118.9 206.5,121.8 206.1,123.4 206.8,127.2 204.8,131.1 205.5,134.3 208.1,136.9 211.9,137.8 215.8,136.2 217.7,132.4 219.5,130.5 222,130 222,212 169,212" fill="#efefdb"/>
<g transform="matrix(1 -0.0215 0.029 1 -0.4 4.1)" shape-rendering="crispEdges">
<rect x="0" y="0" width="215.00" height="203.87" fill="#e9f6ab"/>
<path fill="#cfbb63" d="M0 0.00h10.35v5.71h-10.35zM45 0.00h10.35v5.71h-10.35zM75 0.00h5.35v5.71h-5.35zM195 0.00h10.35v5.71h-10.35zM0 5.37h10.35v5.71h-10.35zM45 5.37h15.35v5.71h-15.35zM75 5.37h5.35v5.71h-5.35zM195 5.37h15.35v5.71h-15.35zM0 10.73h25.35v5.71h-25.35zM50 10.73h5.35v5.71h-5.35zM60 10.73h5.35v5.71h-5.35zM75 10.73h5.35v5.71h-5.35zM200 10.73h15.35v5.71h-15.35zM0 16.09h25.35v5.71h-25.35zM60 16.09h20.35v5.71h-20.35zM175 16.09h20.35v5.71h-20.35zM200 16.09h15.35v5.71h-15.35zM0 21.46h25.35v5.71h-25.35zM75 21.46h10.35v5.71h-10.35zM175 21.46h35.35v5.71h-35.35zM20 26.83h5.35v5.71h-5.35zM75 26.83h10.35v5.71h-10.35zM175 26.83h25.35v5.71h-25.35zM20 32.19h5.35v5.71h-5.35zM75 32.19h10.35v5.71h-10.35zM150 32.19h5.35v5.71h-5.35zM175 32.19h5.35v5.71h-5.35zM185 32.19h5.35v5.71h-5.35zM195 32.19h5.35v5.71h-5.35zM20 37.55h15.35v5.71h-15.35zM70 37.55h10.35v5.71h-10.35zM170 37.55h10.35v5.71h-10.35zM15 42.92h25.35v5.71h-25.35zM70 42.92h5.35v5.71h-5.35zM160 42.92h15.35v5.71h-15.35zM15 48.29h15.35v5.71h-15.35zM35 48.29h10.35v5.71h-10.35zM65 48.29h5.35v5.71h-5.35zM160 48.29h5.35v5.71h-5.35zM15 53.65h25.35v5.71h-25.35zM65 53.65h10.35v5.71h-10.35zM160 53.65h5.35v5.71h-5.35zM0 59.02h15.35v5.71h-15.35zM25 59.02h10.35v5.71h-10.35zM75 59.02h10.35v5.71h-10.35zM165 59.02h5.35v5.71h-5.35zM0 64.38h15.35v5.71h-15.35zM25 64.38h5.35v5.71h-5.35zM65 64.38h5.35v5.71h-5.35zM80 64.38h5.35v5.71h-5.35zM165 64.38h5.35v5.71h-5.35zM210 64.38h5.35v5.71h-5.35zM0 69.75h5.35v5.71h-5.35zM15 69.75h15.35v5.71h-15.35zM75 69.75h5.35v5.71h-5.35zM165 69.75h5.35v5.71h-5.35zM0 75.11h5.35v5.71h-5.35zM20 75.11h10.35v5.71h-10.35zM75 75.11h5.35v5.71h-5.35zM165 75.11h5.35v5.71h-5.35zM0 80.48h5.35v5.71h-5.35zM75 80.48h5.35v5.71h-5.35zM105 80.48h5.35v5.71h-5.35zM165 80.48h5.35v5.71h-5.35zM0 85.84h20.35v5.71h-20.35zM75 85.84h10.35v5.71h-10.35zM105 85.84h5.35v5.71h-5.35zM155 85.84h10.35v5.71h-10.35zM0 91.20h25.35v5.71h-25.35zM70 91.20h40.35v5.71h-40.35zM150 91.20h5.35v5.71h-5.35zM10 96.57h15.35v5.71h-15.35zM75 96.57h35.35v5.71h-35.35zM145 96.57h5.35v5.71h-5.35zM10 101.94h5.35v5.71h-5.35zM20 101.94h5.35v5.71h-5.35zM75 101.94h35.35v5.71h-35.35zM145 101.94h5.35v5.71h-5.35zM5 107.30h10.35v5.71h-10.35zM20 107.30h5.35v5.71h-5.35zM85 107.30h5.35v5.71h-5.35zM95 107.30h15.35v5.71h-15.35zM145 107.30h5.35v5.71h-5.35zM10 112.67h5.35v5.71h-5.35zM20 112.67h5.35v5.71h-5.35zM95 112.67h10.35v5.71h-10.35zM140 112.67h5.35v5.71h-5.35zM15 118.03h10.35v5.71h-10.35zM95 118.03h15.35v5.71h-15.35zM140 118.03h5.35v5.71h-5.35zM15 123.40h15.35v5.71h-15.35zM95 123.40h25.35v5.71h-25.35zM145 123.40h5.35v5.71h-5.35zM15 128.76h5.35v5.71h-5.35zM25 128.76h10.35v5.71h-10.35zM90 128.76h35.35v5.71h-35.35zM140 128.76h10.35v5.71h-10.35zM15 134.12h5.35v5.71h-5.35zM25 134.12h5.35v5.71h-5.35zM90 134.12h5.35v5.71h-5.35zM115 134.12h10.35v5.71h-10.35zM140 134.12h5.35v5.71h-5.35zM115 139.49h10.35v5.71h-10.35zM130 139.49h10.35v5.71h-10.35zM115 144.86h25.35v5.71h-25.35zM115 150.22h25.35v5.71h-25.35zM120 155.59h20.35v5.71h-20.35zM120 160.95h20.35v5.71h-20.35zM115 166.31h10.35v5.71h-10.35zM140 166.31h5.35v5.71h-5.35zM115 171.68h10.35v5.71h-10.35zM145 171.68h5.35v5.71h-5.35zM105 177.05h20.35v5.71h-20.35zM105 182.41h10.35v5.71h-10.35zM150 182.41h5.35v5.71h-5.35zM105 187.78h10.35v5.71h-10.35zM150 187.78h5.35v5.71h-5.35zM105 193.14h10.35v5.71h-10.35zM135 193.14h5.35v5.71h-5.35zM155 193.14h5.35v5.71h-5.35zM105 198.50h15.35v5.71h-15.35zM155 198.50h5.35v5.71h-5.35z"/>
<path fill="#cfb962" d="M10 0.00h5.35v5.71h-5.35zM20 0.00h5.35v5.71h-5.35zM40 0.00h5.35v5.71h-5.35zM55 0.00h5.35v5.71h-5.35zM65 0.00h10.35v5.71h-10.35zM10 5.37h20.35v5.71h-20.35zM70 5.37h5.35v5.71h-5.35zM25 10.73h10.35v5.71h-10.35zM70 10.73h5.35v5.71h-5.35zM25 16.09h10.35v5.71h-10.35zM25 21.46h5.35v5.71h-5.35zM35 21.46h5.35v5.71h-5.35zM70 21.46h5.35v5.71h-5.35zM210 21.46h5.35v5.71h-5.35zM25 26.83h5.35v5.71h-5.35zM60 26.83h5.35v5.71h-5.35zM70 26.83h5.35v5.71h-5.35zM200 26.83h10.35v5.71h-10.35zM25 32.19h10.35v5.71h-10.35zM70 32.19h5.35v5.71h-5.35zM180 32.19h5.35v5.71h-5.35zM190 32.19h5.35v5.71h-5.35zM200 32.19h5.35v5.71h-5.35zM35 37.55h15.35v5.71h-15.35zM65 37.55h5.35v5.71h-5.35zM180 37.55h15.35v5.71h-15.35zM40 42.92h10.35v5.71h-10.35zM65 42.92h5.35v5.71h-5.35zM175 42.92h15.35v5.71h-15.35zM45 48.29h10.35v5.71h-10.35zM165 48.29h20.35v5.71h-20.35zM40 53.65h15.35v5.71h-15.35zM165 53.65h10.35v5.71h-10.35zM35 59.02h25.35v5.71h-25.35zM70 59.02h5.35v5.71h-5.35zM170 59.02h5.35v5.71h-5.35zM30 64.38h10.35v5.71h-10.35zM70 64.38h10.35v5.71h-10.35zM170 64.38h5.35v5.71h-5.35zM5 69.75h10.35v5.71h-10.35zM30 69.75h5.35v5.71h-5.35zM70 69.75h5.35v5.71h-5.35zM210 69.75h5.35v5.71h-5.35zM5 75.11h5.35v5.71h-5.35zM15 75.11h5.35v5.71h-5.35zM30 75.11h5.35v5.71h-5.35zM70 75.11h5.35v5.71h-5.35zM210 75.11h5.35v5.71h-5.35zM5 80.48h30.35v5.71h-30.35zM70 80.48h5.35v5.71h-5.35zM210 80.48h5.35v5.71h-5.35zM20 85.84h10.35v5.71h-10.35zM210 85.84h5.35v5.71h-5.35zM25 91.20h10.35v5.71h-10.35zM155 91.20h10.35v5.71h-10.35zM210 91.20h5.35v5.71h-5.35zM0 96.57h10.35v5.71h-10.35zM25 96.57h5.35v5.71h-5.35zM150 96.57h5.35v5.71h-5.35zM0 101.94h10.35v5.71h-10.35zM25 101.94h5.35v5.71h-5.35zM150 101.94h10.35v5.71h-10.35zM25 107.30h5.35v5.71h-5.35zM80 107.30h5.35v5.71h-5.35zM90 107.30h5.35v5.71h-5.35zM150 107.30h10.35v5.71h-10.35zM25 112.67h5.35v5.71h-5.35zM80 112.67h15.35v5.71h-15.35zM145 112.67h10.35v5.71h-10.35zM25 118.03h5.35v5.71h-5.35zM85 118.03h10.35v5.71h-10.35zM145 118.03h5.35v5.71h-5.35zM90 123.40h5.35v5.71h-5.35zM110 134.12h5.35v5.71h-5.35zM25 139.49h5.35v5.71h-5.35zM110 139.49h5.35v5.71h-5.35zM105 144.86h10.35v5.71h-10.35zM110 150.22h5.35v5.71h-5.35zM110 155.59h10.35v5.71h-10.35zM110 160.95h10.35v5.71h-10.35zM110 166.31h5.35v5.71h-5.35zM110 171.68h5.35v5.71h-5.35zM100 187.78h5.35v5.71h-5.35zM100 193.14h5.35v5.71h-5.35zM100 198.50h5.35v5.71h-5.35z"/>
<path fill="#ceb760" d="M30 0.00h5.35v5.71h-5.35zM30 5.37h5.35v5.71h-5.35zM30 26.83h10.35v5.71h-10.35zM210 26.83h5.35v5.71h-5.35zM35 32.19h20.35v5.71h-20.35zM65 32.19h5.35v5.71h-5.35zM50 37.55h5.35v5.71h-5.35zM50 42.92h5.35v5.71h-5.35zM175 53.65h5.35v5.71h-5.35zM155 96.57h5.35v5.71h-5.35zM210 96.57h5.35v5.71h-5.35zM30 144.86h5.35v5.71h-5.35z"/>
<path fill="#d0bd65" d="M80 0.00h10.35v5.71h-10.35zM100 0.00h45.35v5.71h-45.35zM190 0.00h5.35v5.71h-5.35zM205 0.00h10.35v5.71h-10.35zM80 5.37h10.35v5.71h-10.35zM105 5.37h40.35v5.71h-40.35zM180 5.37h15.35v5.71h-15.35zM210 5.37h5.35v5.71h-5.35zM80 10.73h10.35v5.71h-10.35zM165 10.73h35.35v5.71h-35.35zM80 16.09h10.35v5.71h-10.35zM150 16.09h25.35v5.71h-25.35zM195 16.09h5.35v5.71h-5.35zM85 21.46h5.35v5.71h-5.35zM145 21.46h30.35v5.71h-30.35zM0 26.83h20.35v5.71h-20.35zM85 26.83h5.35v5.71h-5.35zM145 26.83h30.35v5.71h-30.35zM0 32.19h20.35v5.71h-20.35zM85 32.19h10.35v5.71h-10.35zM145 32.19h5.35v5.71h-5.35zM155 32.19h20.35v5.71h-20.35zM0 37.55h20.35v5.71h-20.35zM80 37.55h30.35v5.71h-30.35zM145 37.55h25.35v5.71h-25.35zM5 42.92h10.35v5.71h-10.35zM75 42.92h40.35v5.71h-40.35zM145 42.92h15.35v5.71h-15.35zM5 48.29h10.35v5.71h-10.35zM30 48.29h5.35v5.71h-5.35zM70 48.29h50.35v5.71h-50.35zM150 48.29h10.35v5.71h-10.35zM0 53.65h15.35v5.71h-15.35zM75 53.65h40.35v5.71h-40.35zM150 53.65h10.35v5.71h-10.35zM15 59.02h10.35v5.71h-10.35zM85 59.02h30.35v5.71h-30.35zM145 59.02h20.35v5.71h-20.35zM15 64.38h10.35v5.71h-10.35zM85 64.38h5.35v5.71h-5.35zM100 64.38h15.35v5.71h-15.35zM135 64.38h30.35v5.71h-30.35zM80 69.75h10.35v5.71h-10.35zM95 69.75h20.35v5.71h-20.35zM135 69.75h10.35v5.71h-10.35zM150 69.75h15.35v5.71h-15.35zM80 75.11h40.35v5.71h-40.35zM135 75.11h5.35v5.71h-5.35zM150 75.11h15.35v5.71h-15.35zM80 80.48h25.35v5.71h-25.35zM110 80.48h10.35v5.71h-10.35zM135 80.48h5.35v5.71h-5.35zM150 80.48h15.35v5.71h-15.35zM85 85.84h20.35v5.71h-20.35zM110 85.84h10.35v5.71h-10.35zM140 85.84h15.35v5.71h-15.35zM110 91.20h10.35v5.71h-10.35zM140 91.20h10.35v5.71h-10.35zM110 96.57h10.35v5.71h-10.35zM140 96.57h5.35v5.71h-5.35zM15 101.94h5.35v5.71h-5.35zM110 101.94h10.35v5.71h-10.35zM140 101.94h5.35v5.71h-5.35zM15 107.30h5.35v5.71h-5.35zM110 107.30h10.35v5.71h-10.35zM130 107.30h15.35v5.71h-15.35zM15 112.67h5.35v5.71h-5.35zM105 112.67h20.35v5.71h-20.35zM130 112.67h10.35v5.71h-10.35zM110 118.03h30.35v5.71h-30.35zM120 123.40h25.35v5.71h-25.35zM125 128.76h15.35v5.71h-15.35zM125 134.12h15.35v5.71h-15.35zM125 139.49h5.35v5.71h-5.35zM125 166.31h15.35v5.71h-15.35zM125 171.68h5.35v5.71h-5.35zM140 171.68h5.35v5.71h-5.35zM125 177.05h5.35v5.71h-5.35zM145 177.05h5.35v5.71h-5.35zM115 182.41h15.35v5.71h-15.35zM140 182.41h10.35v5.71h-10.35zM115 187.78h35.35v5.71h-35.35zM115 193.14h20.35v5.71h-20.35zM140 193.14h15.35v5.71h-15.35zM120 198.50h35.35v5.71h-35.35z"/>
<path fill="#d1bf67" d="M90 0.00h10.35v5.71h-10.35zM145 0.00h45.35v5.71h-45.35zM90 5.37h15.35v5.71h-15.35zM145 5.37h35.35v5.71h-35.35zM90 10.73h75.35v5.71h-75.35zM90 16.09h60.35v5.71h-60.35zM90 21.46h55.35v5.71h-55.35zM90 26.83h55.35v5.71h-55.35zM95 32.19h50.35v5.71h-50.35zM110 37.55h35.35v5.71h-35.35zM0 42.92h5.35v5.71h-5.35zM115 42.92h30.35v5.71h-30.35zM0 48.29h5.35v5.71h-5.35zM120 48.29h30.35v5.71h-30.35zM115 53.65h35.35v5.71h-35.35zM115 59.02h30.35v5.71h-30.35zM90 64.38h10.35v5.71h-10.35zM115 64.38h20.35v5.71h-20.35zM90 69.75h5.35v5.71h-5.35zM115 69.75h20.35v5.71h-20.35zM145 69.75h5.35v5.71h-5.35zM120 75.11h15.35v5.71h-15.35zM140 75.11h10.35v5.71h-10.35zM120 80.48h15.35v5.71h-15.35zM140 80.48h10.35v5.71h-10.35zM120 85.84h20.35v5.71h-20.35zM120 91.20h20.35v5.71h-20.35zM120 96.57h20.35v5.71h-20.35zM120 101.94h20.35v5.71h-20.35zM120 107.30h10.35v5.71h-10.35zM125 112.67h5.35v5.71h-5.35zM130 171.68h10.35v5.71h-10.35zM130 177.05h5.35v5.71h-5.35zM140 177.05h5.35v5.71h-5.35zM130 182.41h10.35v5.71h-10.35z"/>
<path fill="#d2c16a" d="M135 177.05h5.35v5.71h-5.35z"/>
</g>
<path d="M-1 -1h31v5.4h-31zM30 -1h80v4.4h-80zM110 -1h45v2.6h-45z" fill="#98b7e2" shape-rendering="crispEdges"/>
<path d="M0.3 -1L6.5 209.4M31.6 -1L37.5 209.4M62.9 -1L68.5 209.4M94.2 -1L99.5 209.4M125.5 -1L130.5 209.4M156.8 -1L161.5 209.4M188.1 -1L192.5 209.4M219.4 -1L223.5 209.4M-1 19.0L219.5 14.5M-1 45.8L219.5 41.2M-1 72.6L219.5 68.0M-1 99.4L219.5 94.8M-1 126.2L219.5 121.5M-1 153.0L219.5 148.2M-1 179.8L219.5 175.0M-1 206.6L219.5 201.8" stroke="#b0b0b0" stroke-width="1.05" fill="none" opacity="0.93"/>
<path d="M169.2 208.6L169.2 203.0L168.8 195.3L168.2 189.5L166.3 185.0L163.7 178.6L161.1 173.5L157.9 169.6L154.1 166.8L150.8 166.0L150.0 164.5L150.8 160.6L150.2 156.1L148.7 151.0L147.6 147.1L147.9 144.6L150.2 142.0L154.1 138.1L156.6 134.3L158.6 129.8L159.8 123.4L161.1 119.5L164.3 116.7L167.6 109.6L170.8 99.3L174.6 86.5L177.8 73.6L182.3 63.3L187.5 54.4L192.0 47.9L197.8 43.8L203.6 41.8L207.4 40.5L209.3 40.0L211.0 41.8L211.5 44.1L210.4 46.4L208.7 49.2L206.8 55.6L204.8 64.6L203.6 73.6L201.6 83.9L200.1 89.1L200.3 92.3L202.3 95.5L204.8 100.0L206.8 103.8L207.0 107.0L205.2 109.6L204.6 111.5L205.5 113.1L207.0 112.8L208.1 110.3L209.3 107.7L211.0 108.3L211.9 110.9L210.6 115.4L208.1 118.9L206.5 121.8L206.1 123.4L206.8 127.2L204.8 131.1L205.5 134.3L208.1 136.9L211.9 137.8L215.8 136.2L217.7 132.4L219.5 130.5" stroke="#7e7e7e" stroke-width="1.35" fill="none" stroke-linejoin="round"/>
</g>
<rect x="-0.30" y="-0.20" width="219.0" height="209.0" fill="none" stroke="#000" stroke-width="1.1"/>
</g>
<linearGradient id="gvs" x1="0" y1="0" x2="0" y2="1"><stop offset="0.00" stop-color="#221f1b"/><stop offset="0.05" stop-color="#322921"/><stop offset="0.10" stop-color="#433426"/><stop offset="0.15" stop-color="#533d2a"/><stop offset="0.20" stop-color="#62452d"/><stop offset="0.25" stop-color="#714d2f"/><stop offset="0.30" stop-color="#7f5430"/><stop offset="0.35" stop-color="#8c5b31"/><stop offset="0.40" stop-color="#996333"/><stop offset="0.45" stop-color="#a46c34"/><stop offset="0.50" stop-color="#af7536"/><stop offset="0.55" stop-color="#b7803b"/><stop offset="0.60" stop-color="#bf8b40"/><stop offset="0.65" stop-color="#c59647"/><stop offset="0.70" stop-color="#c8a250"/><stop offset="0.75" stop-color="#cbae58"/><stop offset="0.80" stop-color="#d0bd65"/><stop offset="0.85" stop-color="#d9ce77"/><stop offset="0.90" stop-color="#e0dc89"/><stop offset="0.95" stop-color="#e5e99a"/><stop offset="1.00" stop-color="#e9f6ab"/></linearGradient>
<rect x="711.2" y="476.9" width="2.4" height="48.2" fill="url(#gvs)" stroke="#000" stroke-width="1.1"/>
<path d="M713.6 476.9h5.4" stroke="#000" stroke-width="1.1"/>
<path d="M713.6 525.1h5.4" stroke="#000" stroke-width="1.1"/>
<g transform="translate(806.8,396.7)">
<clipPath id="cqs"><rect x="-0.30" y="-0.20" width="219.0" height="209.0"/></clipPath>
<g clip-path="url(#cqs)">
<rect x="-2" y="-2" width="222.5" height="212.4" fill="#98b7e2"/>
<polygon points="169.2,208.6 169.2,203.0 168.8,195.3 168.2,189.5 166.3,185.0 163.7,178.6 161.1,173.5 157.9,169.6 154.1,166.8 150.8,166.0 150.0,164.5 150.8,160.6 150.2,156.1 148.7,151.0 147.6,147.1 147.9,144.6 150.2,142.0 154.1,138.1 156.6,134.3 158.6,129.8 159.8,123.4 161.1,119.5 164.3,116.7 167.6,109.6 170.8,99.3 174.6,86.5 177.8,73.6 182.3,63.3 187.5,54.4 192.0,47.9 197.8,43.8 203.6,41.8 207.4,40.5 209.3,40.0 211.0,41.8 211.5,44.1 210.4,46.4 208.7,49.2 206.8,55.6 204.8,64.6 203.6,73.6 201.6,83.9 200.1,89.1 200.3,92.3 202.3,95.5 204.8,100.0 206.8,103.8 207.0,107.0 205.2,109.6 204.6,111.5 205.5,113.1 207.0,112.8 208.1,110.3 209.3,107.7 211.0,108.3 211.9,110.9 210.6,115.4 208.1,118.9 206.5,121.8 206.1,123.4 206.8,127.2 204.8,131.1 205.5,134.3 208.1,136.9 211.9,137.8 215.8,136.2 217.7,132.4 219.5,130.5 222,130 222,212 169,212" fill="#efefdb"/>
<g transform="matrix(1 -0.0215 0.029 1 -0.4 4.1)" shape-rendering="crispEdges">
<rect x="0" y="0" width="215.00" height="203.87" fill="#fff6f4"/>
<path fill="#ecece2" d="M0 0.00h5.35v5.71h-5.35zM90 5.37h5.35v5.71h-5.35zM90 10.73h5.35v5.71h-5.35zM200 10.73h15.35v5.71h-15.35zM195 16.09h5.35v5.71h-5.35zM0 21.46h10.35v5.71h-10.35zM90 21.46h5.35v5.71h-5.35zM5 26.83h5.35v5.71h-5.35zM185 26.83h5.35v5.71h-5.35zM5 32.19h15.35v5.71h-15.35zM90 32.19h5.35v5.71h-5.35zM180 32.19h5.35v5.71h-5.35zM0 37.55h10.35v5.71h-10.35zM20 37.55h5.35v5.71h-5.35zM90 37.55h5.35v5.71h-5.35zM155 37.55h25.35v5.71h-25.35zM0 42.92h5.35v5.71h-5.35zM25 42.92h5.35v5.71h-5.35zM90 42.92h5.35v5.71h-5.35zM145 42.92h20.35v5.71h-20.35zM0 48.29h10.35v5.71h-10.35zM30 48.29h5.35v5.71h-5.35zM90 48.29h5.35v5.71h-5.35zM160 48.29h5.35v5.71h-5.35zM0 53.65h10.35v5.71h-10.35zM15 53.65h5.35v5.71h-5.35zM90 53.65h5.35v5.71h-5.35zM0 59.02h5.35v5.71h-5.35zM15 59.02h5.35v5.71h-5.35zM25 59.02h5.35v5.71h-5.35zM90 59.02h5.35v5.71h-5.35zM160 59.02h5.35v5.71h-5.35zM25 64.38h5.35v5.71h-5.35zM85 64.38h5.35v5.71h-5.35zM85 69.75h5.35v5.71h-5.35zM155 69.75h5.35v5.71h-5.35zM85 75.11h5.35v5.71h-5.35zM155 75.11h5.35v5.71h-5.35zM0 80.48h5.35v5.71h-5.35zM85 80.48h5.35v5.71h-5.35zM0 85.84h5.35v5.71h-5.35zM85 85.84h5.35v5.71h-5.35zM150 85.84h5.35v5.71h-5.35zM10 91.20h10.35v5.71h-10.35zM85 91.20h5.35v5.71h-5.35zM100 91.20h5.35v5.71h-5.35zM145 91.20h5.35v5.71h-5.35zM15 96.57h5.35v5.71h-5.35zM85 96.57h5.35v5.71h-5.35zM100 96.57h5.35v5.71h-5.35zM125 96.57h5.35v5.71h-5.35zM145 96.57h5.35v5.71h-5.35zM125 101.94h5.35v5.71h-5.35zM145 101.94h5.35v5.71h-5.35zM130 107.30h5.35v5.71h-5.35zM140 107.30h5.35v5.71h-5.35zM120 112.67h5.35v5.71h-5.35zM130 112.67h10.35v5.71h-10.35zM105 118.03h20.35v5.71h-20.35zM125 123.40h5.35v5.71h-5.35zM125 128.76h5.35v5.71h-5.35zM125 139.49h5.35v5.71h-5.35zM120 144.86h5.35v5.71h-5.35zM120 171.68h5.35v5.71h-5.35zM130 171.68h5.35v5.71h-5.35zM120 177.05h5.35v5.71h-5.35zM135 177.05h5.35v5.71h-5.35zM115 182.41h10.35v5.71h-10.35zM135 182.41h5.35v5.71h-5.35zM125 187.78h10.35v5.71h-10.35zM110 193.14h5.35v5.71h-5.35zM110 198.50h5.35v5.71h-5.35zM135 198.50h5.35v5.71h-5.35z"/>
<path fill="#e4e7da" d="M5 0.00h5.35v5.71h-5.35zM75 0.00h5.35v5.71h-5.35zM5 5.37h5.35v5.71h-5.35zM80 10.73h5.35v5.71h-5.35zM80 16.09h5.35v5.71h-5.35zM80 21.46h5.35v5.71h-5.35zM205 21.46h10.35v5.71h-10.35zM25 26.83h5.35v5.71h-5.35zM200 26.83h5.35v5.71h-5.35zM30 32.19h5.35v5.71h-5.35zM80 32.19h5.35v5.71h-5.35zM45 37.55h5.35v5.71h-5.35zM80 37.55h5.35v5.71h-5.35zM45 42.92h5.35v5.71h-5.35zM80 42.92h5.35v5.71h-5.35zM45 48.29h5.35v5.71h-5.35zM75 48.29h5.35v5.71h-5.35zM175 48.29h5.35v5.71h-5.35zM35 53.65h10.35v5.71h-10.35zM75 53.65h5.35v5.71h-5.35zM170 53.65h5.35v5.71h-5.35zM75 59.02h5.35v5.71h-5.35zM15 69.75h5.35v5.71h-5.35zM75 69.75h5.35v5.71h-5.35zM20 75.11h5.35v5.71h-5.35zM80 80.48h5.35v5.71h-5.35zM80 85.84h5.35v5.71h-5.35zM20 96.57h5.35v5.71h-5.35zM150 101.94h5.35v5.71h-5.35zM20 112.67h5.35v5.71h-5.35zM90 118.03h5.35v5.71h-5.35zM140 118.03h5.35v5.71h-5.35zM140 123.40h5.35v5.71h-5.35zM115 128.76h5.35v5.71h-5.35zM115 139.49h5.35v5.71h-5.35zM130 139.49h5.35v5.71h-5.35zM115 150.22h5.35v5.71h-5.35zM115 171.68h5.35v5.71h-5.35zM145 193.14h5.35v5.71h-5.35z"/>
<path fill="#d9e1d0" d="M10 0.00h5.35v5.71h-5.35zM20 0.00h5.35v5.71h-5.35zM15 5.37h5.35v5.71h-5.35zM25 5.37h5.35v5.71h-5.35zM45 5.37h5.35v5.71h-5.35zM55 5.37h5.35v5.71h-5.35zM70 5.37h5.35v5.71h-5.35zM35 21.46h5.35v5.71h-5.35zM35 26.83h5.35v5.71h-5.35zM70 26.83h5.35v5.71h-5.35zM40 32.19h5.35v5.71h-5.35zM190 37.55h5.35v5.71h-5.35zM65 42.92h5.35v5.71h-5.35zM185 42.92h5.35v5.71h-5.35zM65 48.29h5.35v5.71h-5.35zM50 53.65h5.35v5.71h-5.35zM65 53.65h5.35v5.71h-5.35zM40 59.02h10.35v5.71h-10.35zM70 59.02h5.35v5.71h-5.35zM30 69.75h5.35v5.71h-5.35zM30 75.11h5.35v5.71h-5.35zM70 75.11h5.35v5.71h-5.35zM25 80.48h5.35v5.71h-5.35zM75 80.48h5.35v5.71h-5.35zM30 91.20h5.35v5.71h-5.35zM75 101.94h5.35v5.71h-5.35zM10 112.67h5.35v5.71h-5.35zM20 123.40h10.35v5.71h-10.35zM145 128.76h5.35v5.71h-5.35zM90 134.12h5.35v5.71h-5.35zM110 134.12h5.35v5.71h-5.35zM110 139.49h5.35v5.71h-5.35zM30 144.86h5.35v5.71h-5.35zM110 155.59h5.35v5.71h-5.35zM135 155.59h5.35v5.71h-5.35zM110 160.95h5.35v5.71h-5.35zM110 166.31h5.35v5.71h-5.35zM145 171.68h5.35v5.71h-5.35zM105 177.05h5.35v5.71h-5.35zM150 182.41h5.35v5.71h-5.35zM100 187.78h5.35v5.71h-5.35zM150 187.78h5.35v5.71h-5.35z"/>
<path fill="#d6e0cd" d="M30 0.00h5.35v5.71h-5.35zM40 0.00h5.35v5.71h-5.35zM30 5.37h5.35v5.71h-5.35zM30 10.73h5.35v5.71h-5.35zM50 10.73h5.35v5.71h-5.35zM60 10.73h5.35v5.71h-5.35zM70 10.73h5.35v5.71h-5.35zM30 16.09h5.35v5.71h-5.35zM60 16.09h10.35v5.71h-10.35zM70 21.46h5.35v5.71h-5.35zM35 64.38h5.35v5.71h-5.35zM30 80.48h5.35v5.71h-5.35zM70 80.48h5.35v5.71h-5.35zM25 85.84h5.35v5.71h-5.35zM75 85.84h5.35v5.71h-5.35zM15 118.03h5.35v5.71h-5.35zM15 123.40h5.35v5.71h-5.35zM15 128.76h5.35v5.71h-5.35zM25 128.76h10.35v5.71h-10.35zM15 134.12h5.35v5.71h-5.35zM25 139.49h5.35v5.71h-5.35zM135 144.86h5.35v5.71h-5.35zM135 150.22h5.35v5.71h-5.35zM155 193.14h5.35v5.71h-5.35zM155 198.50h5.35v5.71h-5.35z"/>
<path fill="#dee4d5" d="M45 0.00h5.35v5.71h-5.35zM55 0.00h5.35v5.71h-5.35zM70 0.00h5.35v5.71h-5.35zM50 5.37h5.35v5.71h-5.35zM25 10.73h5.35v5.71h-5.35zM205 26.83h10.35v5.71h-10.35zM75 32.19h5.35v5.71h-5.35zM190 32.19h5.35v5.71h-5.35zM200 32.19h5.35v5.71h-5.35zM50 37.55h5.35v5.71h-5.35zM70 37.55h5.35v5.71h-5.35zM185 37.55h5.35v5.71h-5.35zM50 42.92h5.35v5.71h-5.35zM70 42.92h5.35v5.71h-5.35zM180 42.92h5.35v5.71h-5.35zM170 59.02h5.35v5.71h-5.35zM70 64.38h5.35v5.71h-5.35zM10 69.75h5.35v5.71h-5.35zM5 75.11h5.35v5.71h-5.35zM15 80.48h5.35v5.71h-5.35zM25 91.20h5.35v5.71h-5.35zM75 91.20h5.35v5.71h-5.35zM0 101.94h5.35v5.71h-5.35zM25 101.94h5.35v5.71h-5.35zM5 107.30h10.35v5.71h-10.35zM25 107.30h5.35v5.71h-5.35zM150 107.30h5.35v5.71h-5.35zM15 112.67h5.35v5.71h-5.35zM25 112.67h5.35v5.71h-5.35zM85 118.03h5.35v5.71h-5.35zM90 123.40h5.35v5.71h-5.35zM95 128.76h10.35v5.71h-10.35zM110 128.76h5.35v5.71h-5.35zM140 128.76h5.35v5.71h-5.35zM145 182.41h5.35v5.71h-5.35zM150 193.14h5.35v5.71h-5.35zM100 198.50h5.35v5.71h-5.35z"/>
<path fill="#e6e9dd" d="M50 0.00h5.35v5.71h-5.35zM80 5.37h5.35v5.71h-5.35zM5 10.73h5.35v5.71h-5.35zM85 10.73h5.35v5.71h-5.35zM10 16.09h10.35v5.71h-10.35zM85 16.09h5.35v5.71h-5.35zM200 16.09h15.35v5.71h-15.35zM15 21.46h5.35v5.71h-5.35zM200 21.46h5.35v5.71h-5.35zM20 26.83h5.35v5.71h-5.35zM80 26.83h5.35v5.71h-5.35zM195 26.83h5.35v5.71h-5.35zM25 32.19h5.35v5.71h-5.35zM185 32.19h5.35v5.71h-5.35zM30 37.55h5.35v5.71h-5.35zM85 37.55h5.35v5.71h-5.35zM180 37.55h5.35v5.71h-5.35zM35 42.92h10.35v5.71h-10.35zM40 48.29h5.35v5.71h-5.35zM80 48.29h5.35v5.71h-5.35zM80 53.65h5.35v5.71h-5.35zM30 59.02h5.35v5.71h-5.35zM80 59.02h5.35v5.71h-5.35zM165 59.02h5.35v5.71h-5.35zM5 64.38h10.35v5.71h-10.35zM75 64.38h5.35v5.71h-5.35zM0 69.75h5.35v5.71h-5.35zM25 69.75h5.35v5.71h-5.35zM160 69.75h5.35v5.71h-5.35zM0 75.11h5.35v5.71h-5.35zM80 75.11h5.35v5.71h-5.35zM160 75.11h5.35v5.71h-5.35zM5 85.84h15.35v5.71h-15.35zM155 85.84h5.35v5.71h-5.35zM20 91.20h5.35v5.71h-5.35zM80 91.20h5.35v5.71h-5.35zM150 91.20h5.35v5.71h-5.35zM5 96.57h5.35v5.71h-5.35zM80 96.57h5.35v5.71h-5.35zM150 96.57h5.35v5.71h-5.35zM10 101.94h5.35v5.71h-5.35zM20 101.94h5.35v5.71h-5.35zM15 107.30h10.35v5.71h-10.35zM85 107.30h5.35v5.71h-5.35zM145 107.30h5.35v5.71h-5.35zM140 112.67h5.35v5.71h-5.35zM95 123.40h5.35v5.71h-5.35zM105 123.40h15.35v5.71h-15.35zM135 128.76h5.35v5.71h-5.35zM115 144.86h5.35v5.71h-5.35zM125 155.59h5.35v5.71h-5.35zM120 160.95h10.35v5.71h-10.35zM130 166.31h5.35v5.71h-5.35zM115 177.05h5.35v5.71h-5.35zM140 177.05h5.35v5.71h-5.35zM110 182.41h5.35v5.71h-5.35zM140 182.41h5.35v5.71h-5.35zM140 187.78h5.35v5.71h-5.35zM105 193.14h5.35v5.71h-5.35zM140 193.14h5.35v5.71h-5.35zM105 198.50h5.35v5.71h-5.35zM145 198.50h5.35v5.71h-5.35z"/>
<path fill="#dbe3d2" d="M65 0.00h5.35v5.71h-5.35zM10 5.37h5.35v5.71h-5.35zM20 5.37h5.35v5.71h-5.35zM25 16.09h5.35v5.71h-5.35zM70 16.09h5.35v5.71h-5.35zM25 21.46h5.35v5.71h-5.35zM30 26.83h5.35v5.71h-5.35zM60 26.83h5.35v5.71h-5.35zM35 32.19h5.35v5.71h-5.35zM45 32.19h10.35v5.71h-10.35zM65 32.19h10.35v5.71h-10.35zM195 32.19h5.35v5.71h-5.35zM65 37.55h5.35v5.71h-5.35zM50 48.29h5.35v5.71h-5.35zM180 48.29h5.35v5.71h-5.35zM70 53.65h5.35v5.71h-5.35zM35 59.02h5.35v5.71h-5.35zM50 59.02h10.35v5.71h-10.35zM65 64.38h5.35v5.71h-5.35zM170 64.38h5.35v5.71h-5.35zM70 69.75h5.35v5.71h-5.35zM165 69.75h5.35v5.71h-5.35zM15 75.11h5.35v5.71h-5.35zM165 75.11h5.35v5.71h-5.35zM10 80.48h5.35v5.71h-5.35zM165 80.48h5.35v5.71h-5.35zM160 85.84h5.35v5.71h-5.35zM70 91.20h5.35v5.71h-5.35zM160 91.20h5.35v5.71h-5.35zM25 96.57h5.35v5.71h-5.35zM75 96.57h5.35v5.71h-5.35zM155 96.57h5.35v5.71h-5.35zM155 101.94h5.35v5.71h-5.35zM80 107.30h5.35v5.71h-5.35zM155 107.30h5.35v5.71h-5.35zM80 112.67h5.35v5.71h-5.35zM150 112.67h5.35v5.71h-5.35zM25 118.03h5.35v5.71h-5.35zM145 118.03h5.35v5.71h-5.35zM145 123.40h5.35v5.71h-5.35zM90 128.76h5.35v5.71h-5.35zM105 128.76h5.35v5.71h-5.35zM140 134.12h5.35v5.71h-5.35zM135 139.49h5.35v5.71h-5.35zM105 144.86h5.35v5.71h-5.35zM110 150.22h5.35v5.71h-5.35zM135 160.95h5.35v5.71h-5.35zM140 166.31h5.35v5.71h-5.35zM110 171.68h5.35v5.71h-5.35zM145 177.05h5.35v5.71h-5.35zM105 182.41h5.35v5.71h-5.35zM100 193.14h5.35v5.71h-5.35z"/>
<path fill="#e9eadf" d="M80 0.00h5.35v5.71h-5.35zM0 5.37h5.35v5.71h-5.35zM85 5.37h5.35v5.71h-5.35zM0 10.73h5.35v5.71h-5.35zM0 16.09h10.35v5.71h-10.35zM90 16.09h5.35v5.71h-5.35zM10 21.46h5.35v5.71h-5.35zM85 21.46h5.35v5.71h-5.35zM195 21.46h5.35v5.71h-5.35zM10 26.83h10.35v5.71h-10.35zM85 26.83h5.35v5.71h-5.35zM190 26.83h5.35v5.71h-5.35zM20 32.19h5.35v5.71h-5.35zM85 32.19h5.35v5.71h-5.35zM25 37.55h5.35v5.71h-5.35zM30 42.92h5.35v5.71h-5.35zM85 42.92h5.35v5.71h-5.35zM165 42.92h15.35v5.71h-15.35zM35 48.29h5.35v5.71h-5.35zM85 48.29h5.35v5.71h-5.35zM165 48.29h10.35v5.71h-10.35zM10 53.65h5.35v5.71h-5.35zM30 53.65h5.35v5.71h-5.35zM85 53.65h5.35v5.71h-5.35zM165 53.65h5.35v5.71h-5.35zM5 59.02h10.35v5.71h-10.35zM85 59.02h5.35v5.71h-5.35zM0 64.38h5.35v5.71h-5.35zM15 64.38h5.35v5.71h-5.35zM80 64.38h5.35v5.71h-5.35zM160 64.38h5.35v5.71h-5.35zM20 69.75h5.35v5.71h-5.35zM80 69.75h5.35v5.71h-5.35zM155 80.48h5.35v5.71h-5.35zM0 91.20h10.35v5.71h-10.35zM10 96.57h5.35v5.71h-5.35zM15 101.94h5.35v5.71h-5.35zM85 101.94h5.35v5.71h-5.35zM125 107.30h5.35v5.71h-5.35zM90 112.67h5.35v5.71h-5.35zM125 112.67h5.35v5.71h-5.35zM95 118.03h5.35v5.71h-5.35zM125 118.03h15.35v5.71h-15.35zM100 123.40h5.35v5.71h-5.35zM120 123.40h5.35v5.71h-5.35zM130 123.40h10.35v5.71h-10.35zM120 128.76h5.35v5.71h-5.35zM130 128.76h5.35v5.71h-5.35zM120 134.12h5.35v5.71h-5.35zM130 134.12h5.35v5.71h-5.35zM120 139.49h5.35v5.71h-5.35zM125 144.86h5.35v5.71h-5.35zM120 150.22h10.35v5.71h-10.35zM120 155.59h5.35v5.71h-5.35zM120 166.31h10.35v5.71h-10.35zM135 171.68h5.35v5.71h-5.35zM110 187.78h5.35v5.71h-5.35zM135 187.78h5.35v5.71h-5.35zM135 193.14h5.35v5.71h-5.35zM140 198.50h5.35v5.71h-5.35z"/>
<path fill="#efede4" d="M85 0.00h20.35v5.71h-20.35zM170 0.00h20.35v5.71h-20.35zM95 5.37h10.35v5.71h-10.35zM175 5.37h5.35v5.71h-5.35zM210 5.37h5.35v5.71h-5.35zM95 10.73h5.35v5.71h-5.35zM195 10.73h5.35v5.71h-5.35zM95 16.09h5.35v5.71h-5.35zM115 16.09h5.35v5.71h-5.35zM95 21.46h5.35v5.71h-5.35zM185 21.46h10.35v5.71h-10.35zM0 26.83h5.35v5.71h-5.35zM90 26.83h5.35v5.71h-5.35zM180 26.83h5.35v5.71h-5.35zM0 32.19h5.35v5.71h-5.35zM95 32.19h5.35v5.71h-5.35zM160 32.19h20.35v5.71h-20.35zM10 37.55h10.35v5.71h-10.35zM95 37.55h5.35v5.71h-5.35zM135 37.55h20.35v5.71h-20.35zM5 42.92h20.35v5.71h-20.35zM95 42.92h5.35v5.71h-5.35zM135 42.92h10.35v5.71h-10.35zM10 48.29h20.35v5.71h-20.35zM95 48.29h5.35v5.71h-5.35zM135 48.29h15.35v5.71h-15.35zM155 48.29h5.35v5.71h-5.35zM20 53.65h10.35v5.71h-10.35zM95 53.65h5.35v5.71h-5.35zM140 53.65h5.35v5.71h-5.35zM160 53.65h5.35v5.71h-5.35zM20 59.02h5.35v5.71h-5.35zM135 59.02h10.35v5.71h-10.35zM155 59.02h5.35v5.71h-5.35zM20 64.38h5.35v5.71h-5.35zM90 64.38h5.35v5.71h-5.35zM135 64.38h10.35v5.71h-10.35zM155 64.38h5.35v5.71h-5.35zM90 69.75h5.35v5.71h-5.35zM135 69.75h10.35v5.71h-10.35zM90 75.11h5.35v5.71h-5.35zM90 80.48h15.35v5.71h-15.35zM150 80.48h5.35v5.71h-5.35zM90 85.84h15.35v5.71h-15.35zM145 85.84h5.35v5.71h-5.35zM90 91.20h10.35v5.71h-10.35zM125 91.20h10.35v5.71h-10.35zM90 96.57h10.35v5.71h-10.35zM130 96.57h5.35v5.71h-5.35zM140 96.57h5.35v5.71h-5.35zM90 101.94h10.35v5.71h-10.35zM120 101.94h5.35v5.71h-5.35zM130 101.94h15.35v5.71h-15.35zM90 107.30h5.35v5.71h-5.35zM120 107.30h5.35v5.71h-5.35zM135 107.30h5.35v5.71h-5.35zM95 112.67h5.35v5.71h-5.35zM110 112.67h10.35v5.71h-10.35zM100 118.03h5.35v5.71h-5.35zM125 134.12h5.35v5.71h-5.35zM125 171.68h5.35v5.71h-5.35zM125 177.05h10.35v5.71h-10.35zM125 182.41h10.35v5.71h-10.35zM115 187.78h10.35v5.71h-10.35zM115 193.14h20.35v5.71h-20.35zM115 198.50h10.35v5.71h-10.35zM130 198.50h5.35v5.71h-5.35z"/>
<path fill="#f1efe7" d="M105 0.00h5.35v5.71h-5.35zM125 0.00h5.35v5.71h-5.35zM165 0.00h5.35v5.71h-5.35zM190 0.00h5.35v5.71h-5.35zM105 5.37h5.35v5.71h-5.35zM120 5.37h10.35v5.71h-10.35zM165 5.37h10.35v5.71h-10.35zM180 5.37h30.35v5.71h-30.35zM100 10.73h35.35v5.71h-35.35zM165 10.73h20.35v5.71h-20.35zM190 10.73h5.35v5.71h-5.35zM100 16.09h15.35v5.71h-15.35zM120 16.09h15.35v5.71h-15.35zM160 16.09h35.35v5.71h-35.35zM105 21.46h30.35v5.71h-30.35zM160 21.46h25.35v5.71h-25.35zM95 26.83h5.35v5.71h-5.35zM115 26.83h20.35v5.71h-20.35zM160 26.83h20.35v5.71h-20.35zM100 32.19h5.35v5.71h-5.35zM125 32.19h35.35v5.71h-35.35zM100 37.55h10.35v5.71h-10.35zM130 37.55h5.35v5.71h-5.35zM100 42.92h5.35v5.71h-5.35zM130 42.92h5.35v5.71h-5.35zM100 48.29h5.35v5.71h-5.35zM130 48.29h5.35v5.71h-5.35zM150 48.29h5.35v5.71h-5.35zM135 53.65h5.35v5.71h-5.35zM145 53.65h5.35v5.71h-5.35zM155 53.65h5.35v5.71h-5.35zM95 59.02h5.35v5.71h-5.35zM130 59.02h5.35v5.71h-5.35zM145 59.02h5.35v5.71h-5.35zM95 64.38h5.35v5.71h-5.35zM130 64.38h5.35v5.71h-5.35zM145 64.38h5.35v5.71h-5.35zM95 69.75h5.35v5.71h-5.35zM130 69.75h5.35v5.71h-5.35zM145 69.75h10.35v5.71h-10.35zM95 75.11h15.35v5.71h-15.35zM135 75.11h20.35v5.71h-20.35zM105 80.48h5.35v5.71h-5.35zM140 80.48h10.35v5.71h-10.35zM105 85.84h5.35v5.71h-5.35zM125 85.84h20.35v5.71h-20.35zM105 91.20h5.35v5.71h-5.35zM120 91.20h5.35v5.71h-5.35zM135 91.20h10.35v5.71h-10.35zM105 96.57h5.35v5.71h-5.35zM120 96.57h5.35v5.71h-5.35zM135 96.57h5.35v5.71h-5.35zM100 101.94h10.35v5.71h-10.35zM95 107.30h5.35v5.71h-5.35zM115 107.30h5.35v5.71h-5.35zM100 112.67h10.35v5.71h-10.35zM125 198.50h5.35v5.71h-5.35z"/>
<path fill="#f4f0ea" d="M110 0.00h5.35v5.71h-5.35zM120 0.00h5.35v5.71h-5.35zM130 0.00h10.35v5.71h-10.35zM150 0.00h15.35v5.71h-15.35zM195 0.00h5.35v5.71h-5.35zM210 0.00h5.35v5.71h-5.35zM110 5.37h10.35v5.71h-10.35zM130 5.37h35.35v5.71h-35.35zM135 10.73h30.35v5.71h-30.35zM185 10.73h5.35v5.71h-5.35zM135 16.09h25.35v5.71h-25.35zM100 21.46h5.35v5.71h-5.35zM135 21.46h15.35v5.71h-15.35zM155 21.46h5.35v5.71h-5.35zM100 26.83h15.35v5.71h-15.35zM135 26.83h15.35v5.71h-15.35zM155 26.83h5.35v5.71h-5.35zM105 32.19h20.35v5.71h-20.35zM110 37.55h20.35v5.71h-20.35zM105 42.92h10.35v5.71h-10.35zM120 42.92h10.35v5.71h-10.35zM105 48.29h10.35v5.71h-10.35zM125 48.29h5.35v5.71h-5.35zM100 53.65h20.35v5.71h-20.35zM130 53.65h5.35v5.71h-5.35zM150 53.65h5.35v5.71h-5.35zM100 59.02h30.35v5.71h-30.35zM150 59.02h5.35v5.71h-5.35zM105 64.38h25.35v5.71h-25.35zM150 64.38h5.35v5.71h-5.35zM100 69.75h30.35v5.71h-30.35zM110 75.11h25.35v5.71h-25.35zM110 80.48h30.35v5.71h-30.35zM110 85.84h15.35v5.71h-15.35zM110 91.20h10.35v5.71h-10.35zM110 96.57h10.35v5.71h-10.35zM110 101.94h10.35v5.71h-10.35zM100 107.30h15.35v5.71h-15.35z"/>
<path fill="#f7f2ec" d="M115 0.00h5.35v5.71h-5.35zM140 0.00h10.35v5.71h-10.35zM200 0.00h10.35v5.71h-10.35zM150 21.46h5.35v5.71h-5.35zM150 26.83h5.35v5.71h-5.35zM115 42.92h5.35v5.71h-5.35zM115 48.29h10.35v5.71h-10.35zM120 53.65h10.35v5.71h-10.35zM100 64.38h5.35v5.71h-5.35z"/>
<path fill="#e1e6d7" d="M75 5.37h5.35v5.71h-5.35zM10 10.73h15.35v5.71h-15.35zM75 10.73h5.35v5.71h-5.35zM20 16.09h5.35v5.71h-5.35zM75 16.09h5.35v5.71h-5.35zM20 21.46h5.35v5.71h-5.35zM75 21.46h5.35v5.71h-5.35zM75 26.83h5.35v5.71h-5.35zM35 37.55h10.35v5.71h-10.35zM75 37.55h5.35v5.71h-5.35zM75 42.92h5.35v5.71h-5.35zM70 48.29h5.35v5.71h-5.35zM45 53.65h5.35v5.71h-5.35zM175 53.65h5.35v5.71h-5.35zM30 64.38h5.35v5.71h-5.35zM165 64.38h5.35v5.71h-5.35zM5 69.75h5.35v5.71h-5.35zM25 75.11h5.35v5.71h-5.35zM75 75.11h5.35v5.71h-5.35zM5 80.48h5.35v5.71h-5.35zM20 80.48h5.35v5.71h-5.35zM160 80.48h5.35v5.71h-5.35zM20 85.84h5.35v5.71h-5.35zM155 91.20h5.35v5.71h-5.35zM0 96.57h5.35v5.71h-5.35zM5 101.94h5.35v5.71h-5.35zM80 101.94h5.35v5.71h-5.35zM85 112.67h5.35v5.71h-5.35zM145 112.67h5.35v5.71h-5.35zM20 118.03h5.35v5.71h-5.35zM115 134.12h5.35v5.71h-5.35zM135 134.12h5.35v5.71h-5.35zM110 144.86h5.35v5.71h-5.35zM130 144.86h5.35v5.71h-5.35zM130 150.22h5.35v5.71h-5.35zM115 155.59h5.35v5.71h-5.35zM130 155.59h5.35v5.71h-5.35zM115 160.95h5.35v5.71h-5.35zM130 160.95h5.35v5.71h-5.35zM115 166.31h5.35v5.71h-5.35zM135 166.31h5.35v5.71h-5.35zM140 171.68h5.35v5.71h-5.35zM110 177.05h5.35v5.71h-5.35zM105 187.78h5.35v5.71h-5.35zM145 187.78h5.35v5.71h-5.35zM150 198.50h5.35v5.71h-5.35z"/>
<path fill="#bcd5b9" d="M210 64.38h5.35v5.71h-5.35zM210 69.75h5.35v5.71h-5.35zM210 75.11h5.35v5.71h-5.35zM210 85.84h5.35v5.71h-5.35zM210 91.20h5.35v5.71h-5.35zM210 96.57h5.35v5.71h-5.35z"/>
<path fill="#b9d3b6" d="M210 80.48h5.35v5.71h-5.35z"/>
<path fill="#d3dfcb" d="M25 134.12h5.35v5.71h-5.35z"/>
</g>
<path d="M-1 -1h31v5.4h-31zM30 -1h80v4.4h-80zM110 -1h45v2.6h-45z" fill="#98b7e2" shape-rendering="crispEdges"/>
<path d="M0.3 -1L6.5 209.4M31.6 -1L37.5 209.4M62.9 -1L68.5 209.4M94.2 -1L99.5 209.4M125.5 -1L130.5 209.4M156.8 -1L161.5 209.4M188.1 -1L192.5 209.4M219.4 -1L223.5 209.4M-1 19.0L219.5 14.5M-1 45.8L219.5 41.2M-1 72.6L219.5 68.0M-1 99.4L219.5 94.8M-1 126.2L219.5 121.5M-1 153.0L219.5 148.2M-1 179.8L219.5 175.0M-1 206.6L219.5 201.8" stroke="#b0b0b0" stroke-width="1.05" fill="none" opacity="0.93"/>
<path d="M169.2 208.6L169.2 203.0L168.8 195.3L168.2 189.5L166.3 185.0L163.7 178.6L161.1 173.5L157.9 169.6L154.1 166.8L150.8 166.0L150.0 164.5L150.8 160.6L150.2 156.1L148.7 151.0L147.6 147.1L147.9 144.6L150.2 142.0L154.1 138.1L156.6 134.3L158.6 129.8L159.8 123.4L161.1 119.5L164.3 116.7L167.6 109.6L170.8 99.3L174.6 86.5L177.8 73.6L182.3 63.3L187.5 54.4L192.0 47.9L197.8 43.8L203.6 41.8L207.4 40.5L209.3 40.0L211.0 41.8L211.5 44.1L210.4 46.4L208.7 49.2L206.8 55.6L204.8 64.6L203.6 73.6L201.6 83.9L200.1 89.1L200.3 92.3L202.3 95.5L204.8 100.0L206.8 103.8L207.0 107.0L205.2 109.6L204.6 111.5L205.5 113.1L207.0 112.8L208.1 110.3L209.3 107.7L211.0 108.3L211.9 110.9L210.6 115.4L208.1 118.9L206.5 121.8L206.1 123.4L206.8 127.2L204.8 131.1L205.5 134.3L208.1 136.9L211.9 137.8L215.8 136.2L217.7 132.4L219.5 130.5" stroke="#7e7e7e" stroke-width="1.35" fill="none" stroke-linejoin="round"/>
</g>
<rect x="-0.30" y="-0.20" width="219.0" height="209.0" fill="none" stroke="#000" stroke-width="1.1"/>
</g>
<linearGradient id="gqs" x1="0" y1="0" x2="0" y2="1"><stop offset="0.00" stop-color="#141d43"/><stop offset="0.05" stop-color="#173255"/><stop offset="0.10" stop-color="#1a4767"/><stop offset="0.15" stop-color="#1b5873"/><stop offset="0.20" stop-color="#1a6478"/><stop offset="0.25" stop-color="#18707d"/><stop offset="0.30" stop-color="#157c81"/><stop offset="0.35" stop-color="#128785"/><stop offset="0.40" stop-color="#199288"/><stop offset="0.45" stop-color="#299d89"/><stop offset="0.50" stop-color="#39a78a"/><stop offset="0.55" stop-color="#51af8e"/><stop offset="0.60" stop-color="#6ab791"/><stop offset="0.65" stop-color="#80bf98"/><stop offset="0.70" stop-color="#95c6a1"/><stop offset="0.75" stop-color="#aacdab"/><stop offset="0.80" stop-color="#bcd5b9"/><stop offset="0.85" stop-color="#cddcc6"/><stop offset="0.90" stop-color="#dee4d5"/><stop offset="0.95" stop-color="#efede4"/><stop offset="1.00" stop-color="#fff6f4"/></linearGradient>
<rect x="1039.2" y="476.9" width="2.4" height="48.2" fill="url(#gqs)" stroke="#000" stroke-width="1.1"/>
<path d="M1041.6 476.9h5.4" stroke="#000" stroke-width="1.1"/>
<path d="M1041.6 525.1h5.4" stroke="#000" stroke-width="1.1"/>
<filter id="gs" x="0" y="0" width="1200" height="700" filterUnits="userSpaceOnUse"><feColorMatrix type="saturate" values="0"/></filter>
<g filter="url(#gs)">
<text x="600.00" y="27.60" font-size="17.42" text-anchor="middle" textLength="259.19" lengthAdjust="spacingAndGlyphs">GP kernel - uv_matern12_noise</text>
<text x="600.00" y="49.30" font-size="17.42" text-anchor="middle" textLength="193.32" lengthAdjust="spacingAndGlyphs">2026-04-04T23:00:00Z</text>
<text x="151.60" y="91.80" font-size="14.51" text-anchor="middle" textLength="55.48" lengthAdjust="spacingAndGlyphs">112.5°E</text>
<text x="157.60" y="329.40" font-size="14.51" text-anchor="middle" textLength="55.48" lengthAdjust="spacingAndGlyphs">112.5°E</text>
<text x="214.05" y="91.80" font-size="14.51" text-anchor="middle" textLength="42.23" lengthAdjust="spacingAndGlyphs">113°E</text>
<text x="219.40" y="329.40" font-size="14.51" text-anchor="middle" textLength="42.23" lengthAdjust="spacingAndGlyphs">113°E</text>
<text x="276.50" y="91.80" font-size="14.51" text-anchor="middle" textLength="55.48" lengthAdjust="spacingAndGlyphs">113.5°E</text>
<text x="281.20" y="329.40" font-size="14.51" text-anchor="middle" textLength="55.48" lengthAdjust="spacingAndGlyphs">113.5°E</text>
<text x="338.95" y="91.80" font-size="14.51" text-anchor="middle" textLength="42.23" lengthAdjust="spacingAndGlyphs">114°E</text>
<text x="343.00" y="329.40" font-size="14.51" text-anchor="middle" textLength="42.23" lengthAdjust="spacingAndGlyphs">114°E</text>
<text x="142.90" y="125.90" font-size="14.51" text-anchor="end" textLength="46.69" lengthAdjust="spacingAndGlyphs">21.6°S</text>
<text x="142.90" y="152.70" font-size="14.51" text-anchor="end" textLength="46.69" lengthAdjust="spacingAndGlyphs">21.8°S</text>
<text x="142.90" y="179.50" font-size="14.51" text-anchor="end" textLength="33.43" lengthAdjust="spacingAndGlyphs">22°S</text>
<text x="142.90" y="206.30" font-size="14.51" text-anchor="end" textLength="46.69" lengthAdjust="spacingAndGlyphs">22.2°S</text>
<text x="142.90" y="233.10" font-size="14.51" text-anchor="end" textLength="46.69" lengthAdjust="spacingAndGlyphs">22.4°S</text>
<text x="142.90" y="259.90" font-size="14.51" text-anchor="end" textLength="46.69" lengthAdjust="spacingAndGlyphs">22.6°S</text>
<text x="142.90" y="286.70" font-size="14.51" text-anchor="end" textLength="46.69" lengthAdjust="spacingAndGlyphs">22.8°S</text>
<text x="142.90" y="313.50" font-size="14.51" text-anchor="end" textLength="33.43" lengthAdjust="spacingAndGlyphs">23°S</text>
<text x="259.95" y="72.50" font-size="17.42" text-anchor="middle" textLength="59.40" lengthAdjust="spacingAndGlyphs">u [m/s]</text>
<text x="394.80" y="187.90" font-size="14.51" text-anchor="start" textLength="8.84" lengthAdjust="spacingAndGlyphs">1</text>
<text x="394.80" y="212.00" font-size="14.51" text-anchor="start" textLength="8.84" lengthAdjust="spacingAndGlyphs">0</text>
<text x="394.80" y="236.10" font-size="14.51" text-anchor="start" textLength="20.47" lengthAdjust="spacingAndGlyphs">−1</text>
<text x="479.70" y="91.80" font-size="14.51" text-anchor="middle" textLength="55.48" lengthAdjust="spacingAndGlyphs">112.5°E</text>
<text x="485.70" y="329.40" font-size="14.51" text-anchor="middle" textLength="55.48" lengthAdjust="spacingAndGlyphs">112.5°E</text>
<text x="542.15" y="91.80" font-size="14.51" text-anchor="middle" textLength="42.23" lengthAdjust="spacingAndGlyphs">113°E</text>
<text x="547.50" y="329.40" font-size="14.51" text-anchor="middle" textLength="42.23" lengthAdjust="spacingAndGlyphs">113°E</text>
<text x="604.60" y="91.80" font-size="14.51" text-anchor="middle" textLength="55.48" lengthAdjust="spacingAndGlyphs">113.5°E</text>
<text x="609.30" y="329.40" font-size="14.51" text-anchor="middle" textLength="55.48" lengthAdjust="spacingAndGlyphs">113.5°E</text>
<text x="667.05" y="91.80" font-size="14.51" text-anchor="middle" textLength="42.23" lengthAdjust="spacingAndGlyphs">114°E</text>
<text x="671.10" y="329.40" font-size="14.51" text-anchor="middle" textLength="42.23" lengthAdjust="spacingAndGlyphs">114°E</text>
<text x="471.00" y="125.90" font-size="14.51" text-anchor="end" textLength="46.69" lengthAdjust="spacingAndGlyphs">21.6°S</text>
<text x="471.00" y="152.70" font-size="14.51" text-anchor="end" textLength="46.69" lengthAdjust="spacingAndGlyphs">21.8°S</text>
<text x="471.00" y="179.50" font-size="14.51" text-anchor="end" textLength="33.43" lengthAdjust="spacingAndGlyphs">22°S</text>
<text x="471.00" y="206.30" font-size="14.51" text-anchor="end" textLength="46.69" lengthAdjust="spacingAndGlyphs">22.2°S</text>
<text x="471.00" y="233.10" font-size="14.51" text-anchor="end" textLength="46.69" lengthAdjust="spacingAndGlyphs">22.4°S</text>
<text x="471.00" y="259.90" font-size="14.51" text-anchor="end" textLength="46.69" lengthAdjust="spacingAndGlyphs">22.6°S</text>
<text x="471.00" y="286.70" font-size="14.51" text-anchor="end" textLength="46.69" lengthAdjust="spacingAndGlyphs">22.8°S</text>
<text x="471.00" y="313.50" font-size="14.51" text-anchor="end" textLength="33.43" lengthAdjust="spacingAndGlyphs">23°S</text>
<text x="588.05" y="72.50" font-size="17.42" text-anchor="middle" textLength="58.70" lengthAdjust="spacingAndGlyphs">v [m/s]</text>
<text x="722.90" y="187.90" font-size="14.51" text-anchor="start" textLength="8.84" lengthAdjust="spacingAndGlyphs">1</text>
<text x="722.90" y="212.00" font-size="14.51" text-anchor="start" textLength="8.84" lengthAdjust="spacingAndGlyphs">0</text>
<text x="722.90" y="236.10" font-size="14.51" text-anchor="start" textLength="20.47" lengthAdjust="spacingAndGlyphs">−1</text>
<text x="807.70" y="91.80" font-size="14.51" text-anchor="middle" textLength="55.48" lengthAdjust="spacingAndGlyphs">112.5°E</text>
<text x="813.70" y="329.40" font-size="14.51" text-anchor="middle" textLength="55.48" lengthAdjust="spacingAndGlyphs">112.5°E</text>
<text x="870.15" y="91.80" font-size="14.51" text-anchor="middle" textLength="42.23" lengthAdjust="spacingAndGlyphs">113°E</text>
<text x="875.50" y="329.40" font-size="14.51" text-anchor="middle" textLength="42.23" lengthAdjust="spacingAndGlyphs">113°E</text>
<text x="932.60" y="91.80" font-size="14.51" text-anchor="middle" textLength="55.48" lengthAdjust="spacingAndGlyphs">113.5°E</text>
<text x="937.30" y="329.40" font-size="14.51" text-anchor="middle" textLength="55.48" lengthAdjust="spacingAndGlyphs">113.5°E</text>
<text x="995.05" y="91.80" font-size="14.51" text-anchor="middle" textLength="42.23" lengthAdjust="spacingAndGlyphs">114°E</text>
<text x="999.10" y="329.40" font-size="14.51" text-anchor="middle" textLength="42.23" lengthAdjust="spacingAndGlyphs">114°E</text>
<text x="799.00" y="125.90" font-size="14.51" text-anchor="end" textLength="46.69" lengthAdjust="spacingAndGlyphs">21.6°S</text>
<text x="799.00" y="152.70" font-size="14.51" text-anchor="end" textLength="46.69" lengthAdjust="spacingAndGlyphs">21.8°S</text>
<text x="799.00" y="179.50" font-size="14.51" text-anchor="end" textLength="33.43" lengthAdjust="spacingAndGlyphs">22°S</text>
<text x="799.00" y="206.30" font-size="14.51" text-anchor="end" textLength="46.69" lengthAdjust="spacingAndGlyphs">22.2°S</text>
<text x="799.00" y="233.10" font-size="14.51" text-anchor="end" textLength="46.69" lengthAdjust="spacingAndGlyphs">22.4°S</text>
<text x="799.00" y="259.90" font-size="14.51" text-anchor="end" textLength="46.69" lengthAdjust="spacingAndGlyphs">22.6°S</text>
<text x="799.00" y="286.70" font-size="14.51" text-anchor="end" textLength="46.69" lengthAdjust="spacingAndGlyphs">22.8°S</text>
<text x="799.00" y="313.50" font-size="14.51" text-anchor="end" textLength="33.43" lengthAdjust="spacingAndGlyphs">23°S</text>
<text x="872.79" y="72.50" font-size="17.42" text-anchor="start" textLength="56.02" lengthAdjust="spacingAndGlyphs">q [K hr</text>
<text x="934.91" y="64.30" font-size="12.19" text-anchor="start" textLength="17.20" lengthAdjust="spacingAndGlyphs">−1</text>
<text x="952.81" y="72.50" font-size="17.42" text-anchor="start" textLength="6.50" lengthAdjust="spacingAndGlyphs">]</text>
<text x="1050.90" y="196.94" font-size="14.51" text-anchor="start" textLength="30.92" lengthAdjust="spacingAndGlyphs">0.25</text>
<text x="1050.90" y="212.00" font-size="14.51" text-anchor="start" textLength="30.92" lengthAdjust="spacingAndGlyphs">0.00</text>
<text x="1050.90" y="227.06" font-size="14.51" text-anchor="start" textLength="42.56" lengthAdjust="spacingAndGlyphs">−0.25</text>
<text x="151.60" y="385.90" font-size="14.51" text-anchor="middle" textLength="55.48" lengthAdjust="spacingAndGlyphs">112.5°E</text>
<text x="157.60" y="623.50" font-size="14.51" text-anchor="middle" textLength="55.48" lengthAdjust="spacingAndGlyphs">112.5°E</text>
<text x="214.05" y="385.90" font-size="14.51" text-anchor="middle" textLength="42.23" lengthAdjust="spacingAndGlyphs">113°E</text>
<text x="219.40" y="623.50" font-size="14.51" text-anchor="middle" textLength="42.23" lengthAdjust="spacingAndGlyphs">113°E</text>
<text x="276.50" y="385.90" font-size="14.51" text-anchor="middle" textLength="55.48" lengthAdjust="spacingAndGlyphs">113.5°E</text>
<text x="281.20" y="623.50" font-size="14.51" text-anchor="middle" textLength="55.48" lengthAdjust="spacingAndGlyphs">113.5°E</text>
<text x="338.95" y="385.90" font-size="14.51" text-anchor="middle" textLength="42.23" lengthAdjust="spacingAndGlyphs">114°E</text>
<text x="343.00" y="623.50" font-size="14.51" text-anchor="middle" textLength="42.23" lengthAdjust="spacingAndGlyphs">114°E</text>
<text x="142.90" y="420.00" font-size="14.51" text-anchor="end" textLength="46.69" lengthAdjust="spacingAndGlyphs">21.6°S</text>
<text x="142.90" y="446.80" font-size="14.51" text-anchor="end" textLength="46.69" lengthAdjust="spacingAndGlyphs">21.8°S</text>
<text x="142.90" y="473.60" font-size="14.51" text-anchor="end" textLength="33.43" lengthAdjust="spacingAndGlyphs">22°S</text>
<text x="142.90" y="500.40" font-size="14.51" text-anchor="end" textLength="46.69" lengthAdjust="spacingAndGlyphs">22.2°S</text>
<text x="142.90" y="527.20" font-size="14.51" text-anchor="end" textLength="46.69" lengthAdjust="spacingAndGlyphs">22.4°S</text>
<text x="142.90" y="554.00" font-size="14.51" text-anchor="end" textLength="46.69" lengthAdjust="spacingAndGlyphs">22.6°S</text>
<text x="142.90" y="580.80" font-size="14.51" text-anchor="end" textLength="46.69" lengthAdjust="spacingAndGlyphs">22.8°S</text>
<text x="142.90" y="607.60" font-size="14.51" text-anchor="end" textLength="33.43" lengthAdjust="spacingAndGlyphs">23°S</text>
<text x="259.95" y="366.60" font-size="17.42" text-anchor="middle" textLength="95.80" lengthAdjust="spacingAndGlyphs">u std. [m/s]</text>
<text x="394.80" y="482.00" font-size="14.51" text-anchor="start" textLength="22.09" lengthAdjust="spacingAndGlyphs">0.5</text>
<text x="394.80" y="530.20" font-size="14.51" text-anchor="start" textLength="22.09" lengthAdjust="spacingAndGlyphs">0.0</text>
<text x="479.70" y="385.90" font-size="14.51" text-anchor="middle" textLength="55.48" lengthAdjust="spacingAndGlyphs">112.5°E</text>
<text x="485.70" y="623.50" font-size="14.51" text-anchor="middle" textLength="55.48" lengthAdjust="spacingAndGlyphs">112.5°E</text>
<text x="542.15" y="385.90" font-size="14.51" text-anchor="middle" textLength="42.23" lengthAdjust="spacingAndGlyphs">113°E</text>
<text x="547.50" y="623.50" font-size="14.51" text-anchor="middle" textLength="42.23" lengthAdjust="spacingAndGlyphs">113°E</text>
<text x="604.60" y="385.90" font-size="14.51" text-anchor="middle" textLength="55.48" lengthAdjust="spacingAndGlyphs">113.5°E</text>
<text x="609.30" y="623.50" font-size="14.51" text-anchor="middle" textLength="55.48" lengthAdjust="spacingAndGlyphs">113.5°E</text>
<text x="667.05" y="385.90" font-size="14.51" text-anchor="middle" textLength="42.23" lengthAdjust="spacingAndGlyphs">114°E</text>
<text x="671.10" y="623.50" font-size="14.51" text-anchor="middle" textLength="42.23" lengthAdjust="spacingAndGlyphs">114°E</text>
<text x="471.00" y="420.00" font-size="14.51" text-anchor="end" textLength="46.69" lengthAdjust="spacingAndGlyphs">21.6°S</text>
<text x="471.00" y="446.80" font-size="14.51" text-anchor="end" textLength="46.69" lengthAdjust="spacingAndGlyphs">21.8°S</text>
<text x="471.00" y="473.60" font-size="14.51" text-anchor="end" textLength="33.43" lengthAdjust="spacingAndGlyphs">22°S</text>
<text x="471.00" y="500.40" font-size="14.51" text-anchor="end" textLength="46.69" lengthAdjust="spacingAndGlyphs">22.2°S</text>
<text x="471.00" y="527.20" font-size="14.51" text-anchor="end" textLength="46.69" lengthAdjust="spacingAndGlyphs">22.4°S</text>
<text x="471.00" y="554.00" font-size="14.51" text-anchor="end" textLength="46.69" lengthAdjust="spacingAndGlyphs">22.6°S</text>
<text x="471.00" y="580.80" font-size="14.51" text-anchor="end" textLength="46.69" lengthAdjust="spacingAndGlyphs">22.8°S</text>
<text x="471.00" y="607.60" font-size="14.51" text-anchor="end" textLength="33.43" lengthAdjust="spacingAndGlyphs">23°S</text>
<text x="588.05" y="366.60" font-size="17.42" text-anchor="middle" textLength="95.10" lengthAdjust="spacingAndGlyphs">v std. [m/s]</text>
<text x="722.90" y="482.00" font-size="14.51" text-anchor="start" textLength="22.09" lengthAdjust="spacingAndGlyphs">0.5</text>
<text x="722.90" y="530.20" font-size="14.51" text-anchor="start" textLength="22.09" lengthAdjust="spacingAndGlyphs">0.0</text>
<text x="807.70" y="385.90" font-size="14.51" text-anchor="middle" textLength="55.48" lengthAdjust="spacingAndGlyphs">112.5°E</text>
<text x="813.70" y="623.50" font-size="14.51" text-anchor="middle" textLength="55.48" lengthAdjust="spacingAndGlyphs">112.5°E</text>
<text x="870.15" y="385.90" font-size="14.51" text-anchor="middle" textLength="42.23" lengthAdjust="spacingAndGlyphs">113°E</text>
<text x="875.50" y="623.50" font-size="14.51" text-anchor="middle" textLength="42.23" lengthAdjust="spacingAndGlyphs">113°E</text>
<text x="932.60" y="385.90" font-size="14.51" text-anchor="middle" textLength="55.48" lengthAdjust="spacingAndGlyphs">113.5°E</text>
<text x="937.30" y="623.50" font-size="14.51" text-anchor="middle" textLength="55.48" lengthAdjust="spacingAndGlyphs">113.5°E</text>
<text x="995.05" y="385.90" font-size="14.51" text-anchor="middle" textLength="42.23" lengthAdjust="spacingAndGlyphs">114°E</text>
<text x="999.10" y="623.50" font-size="14.51" text-anchor="middle" textLength="42.23" lengthAdjust="spacingAndGlyphs">114°E</text>
<text x="799.00" y="420.00" font-size="14.51" text-anchor="end" textLength="46.69" lengthAdjust="spacingAndGlyphs">21.6°S</text>
<text x="799.00" y="446.80" font-size="14.51" text-anchor="end" textLength="46.69" lengthAdjust="spacingAndGlyphs">21.8°S</text>
<text x="799.00" y="473.60" font-size="14.51" text-anchor="end" textLength="33.43" lengthAdjust="spacingAndGlyphs">22°S</text>
<text x="799.00" y="500.40" font-size="14.51" text-anchor="end" textLength="46.69" lengthAdjust="spacingAndGlyphs">22.2°S</text>
<text x="799.00" y="527.20" font-size="14.51" text-anchor="end" textLength="46.69" lengthAdjust="spacingAndGlyphs">22.4°S</text>
<text x="799.00" y="554.00" font-size="14.51" text-anchor="end" textLength="46.69" lengthAdjust="spacingAndGlyphs">22.6°S</text>
<text x="799.00" y="580.80" font-size="14.51" text-anchor="end" textLength="46.69" lengthAdjust="spacingAndGlyphs">22.8°S</text>
<text x="799.00" y="607.60" font-size="14.51" text-anchor="end" textLength="33.43" lengthAdjust="spacingAndGlyphs">23°S</text>
<text x="854.59" y="366.60" font-size="17.42" text-anchor="start" textLength="92.42" lengthAdjust="spacingAndGlyphs">q std. [K hr</text>
<text x="953.11" y="358.40" font-size="12.19" text-anchor="start" textLength="17.20" lengthAdjust="spacingAndGlyphs">−1</text>
<text x="971.01" y="366.60" font-size="17.42" text-anchor="start" textLength="6.50" lengthAdjust="spacingAndGlyphs">]</text>
<text x="1050.90" y="482.00" font-size="14.51" text-anchor="start" textLength="22.09" lengthAdjust="spacingAndGlyphs">0.1</text>
<text x="1050.90" y="530.20" font-size="14.51" text-anchor="start" textLength="22.09" lengthAdjust="spacingAndGlyphs">0.0</text>
</g>
</svg></body></html>
